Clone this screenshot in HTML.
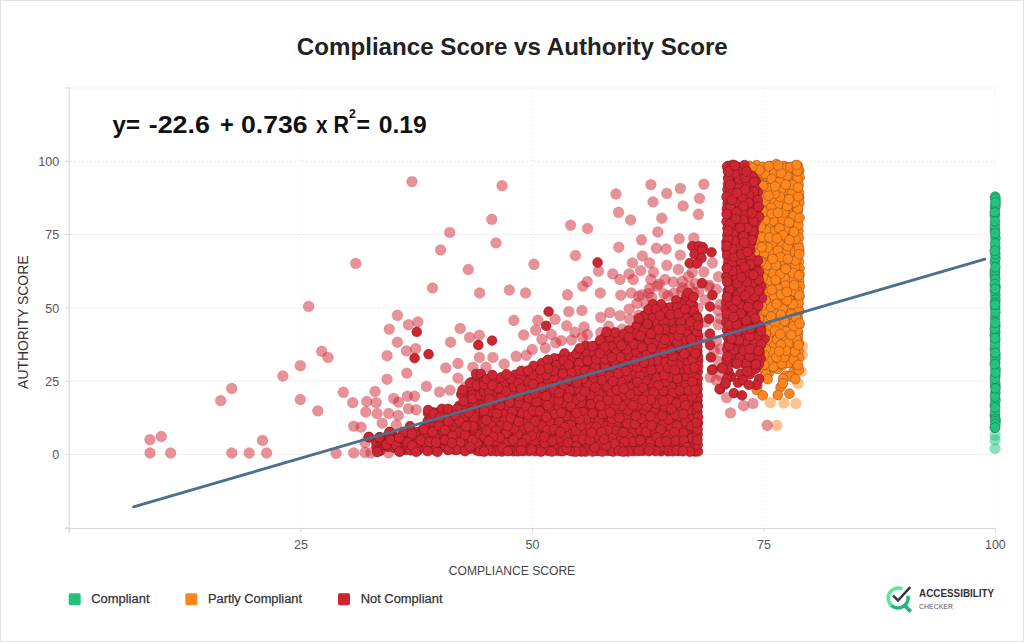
<!DOCTYPE html>
<html><head><meta charset="utf-8"><title>Compliance Score vs Authority Score</title>
<style>
html,body{margin:0;padding:0;background:#fff}
body{width:1024px;height:642px;overflow:hidden;font-family:"Liberation Sans",sans-serif}
svg{display:block;font-family:"Liberation Sans",sans-serif}
.grid line{stroke:#ebebeb;stroke-width:1;stroke-dasharray:2.8 1.2}
.vgrid line{stroke:#ededed;stroke-width:1;stroke-dasharray:1.6 2.4}
.axis line{stroke:#d6d6d6;stroke-width:1}
.tl text{font-size:12.5px;fill:#555}
circle{r:4.9px}
.pr circle,.po circle,.gp circle{r:5.45px}
.rs{fill:#CE2532;stroke:#6e1118;stroke-width:.6;stroke-opacity:.8}
.pr{fill:#CE2532;fill-opacity:.5;stroke:#CE2532;stroke-opacity:.3;stroke-width:.5}
.os{fill:#FF851F;stroke:#8a4a10;stroke-width:.7;stroke-opacity:.75}
.po{fill:#FF851F;fill-opacity:.5;stroke:#FF851F;stroke-opacity:.3;stroke-width:.5}
.gs{fill:#24C27B;stroke:#12704a;stroke-width:.7;stroke-opacity:.75}
.gp{fill:#24C27B;fill-opacity:.5;stroke:#24C27B;stroke-opacity:.3;stroke-width:.5}
</style></head><body>
<svg width="1024" height="642" viewBox="0 0 1024 642">
<rect x="0.5" y="0.5" width="1023" height="641" fill="#fff" stroke="#e2e2e2"/>
<text x="512.3" y="55" text-anchor="middle" font-size="24" font-weight="bold" fill="#222" textLength="431" lengthAdjust="spacingAndGlyphs">Compliance Score vs Authority Score</text>
<g class="grid"><line x1="69.4" x2="995.4" y1="87.94" y2="87.94"/><line x1="69.4" x2="995.4" y1="161.25" y2="161.25"/><line x1="69.4" x2="995.4" y1="234.56" y2="234.56"/><line x1="69.4" x2="995.4" y1="307.88" y2="307.88"/><line x1="69.4" x2="995.4" y1="381.19" y2="381.19"/><line x1="69.4" x2="995.4" y1="454.50" y2="454.50"/></g><g class="vgrid"><line x1="300.90" x2="300.90" y1="87.9" y2="528.5"/><line x1="532.40" x2="532.40" y1="87.9" y2="528.5"/><line x1="763.90" x2="763.90" y1="87.9" y2="528.5"/><line x1="995.40" x2="995.40" y1="87.9" y2="528.5"/></g>
<g class="axis"><line x1="69.1" x2="69.1" y1="87.9" y2="532.5"/><line x1="65.1" x2="995.4" y1="528.5" y2="528.5"/><line x1="65.1" x2="69.1" y1="87.94" y2="87.94"/><line x1="65.1" x2="69.1" y1="161.25" y2="161.25"/><line x1="65.1" x2="69.1" y1="234.56" y2="234.56"/><line x1="65.1" x2="69.1" y1="307.88" y2="307.88"/><line x1="65.1" x2="69.1" y1="381.19" y2="381.19"/><line x1="65.1" x2="69.1" y1="454.50" y2="454.50"/><line x1="65.1" x2="69.1" y1="527.81" y2="527.81"/><line x1="69.40" x2="69.40" y1="528.5" y2="532.5"/><line x1="300.90" x2="300.90" y1="528.5" y2="532.5"/><line x1="532.40" x2="532.40" y1="528.5" y2="532.5"/><line x1="763.90" x2="763.90" y1="528.5" y2="532.5"/><line x1="995.40" x2="995.40" y1="528.5" y2="532.5"/></g>
<g class="tl"><text x="59.2" y="165.8" text-anchor="end">100</text><text x="59.2" y="239.2" text-anchor="end">75</text><text x="59.2" y="312.5" text-anchor="end">50</text><text x="59.2" y="385.8" text-anchor="end">25</text><text x="59.2" y="459.1" text-anchor="end">0</text><text x="300.9" y="549.2" text-anchor="middle">25</text><text x="532.4" y="549.2" text-anchor="middle">50</text><text x="763.9" y="549.2" text-anchor="middle">75</text><text x="995.4" y="549.2" text-anchor="middle">100</text></g>
<text x="512" y="575.2" text-anchor="middle" font-size="12.5" fill="#444" textLength="126.4" lengthAdjust="spacingAndGlyphs">COMPLIANCE SCORE</text>
<text transform="translate(28,322.2) rotate(-90)" text-anchor="middle" font-size="13.8" fill="#333" textLength="133.4" lengthAdjust="spacingAndGlyphs">AUTHORITY SCORE</text>
<g font-weight="bold" fill="#111" font-size="24">
<text x="112.5" y="133.2" textLength="27.5" lengthAdjust="spacingAndGlyphs">y=</text>
<text x="148.7" y="133.2" textLength="61.3" lengthAdjust="spacingAndGlyphs">-22.6</text>
<text x="220" y="133.2" textLength="13.8" lengthAdjust="spacingAndGlyphs">+</text>
<text x="241" y="133.2" textLength="66.5" lengthAdjust="spacingAndGlyphs">0.736</text>
<text x="316" y="133.2" textLength="11.5" lengthAdjust="spacingAndGlyphs">x</text>
<text x="333.5" y="133.2" textLength="15.5" lengthAdjust="spacingAndGlyphs">R</text>
<text x="349" y="117.5" font-size="12" textLength="6.8" lengthAdjust="spacingAndGlyphs">2</text>
<text x="356.5" y="133.2" textLength="13.5" lengthAdjust="spacingAndGlyphs">=</text>
<text x="378.7" y="133.2" textLength="48" lengthAdjust="spacingAndGlyphs">0.19</text>
</g>
<g class="po"><circle cx="776.8" cy="425.3"/><circle cx="770.4" cy="402.6"/><circle cx="783.9" cy="403.1"/><circle cx="795.9" cy="403.5"/><circle cx="798.1" cy="383.4"/><circle cx="801.4" cy="371.4"/><circle cx="802.5" cy="355.1"/><circle cx="802.5" cy="346.4"/></g>
<g class="gp"><circle cx="995.1" cy="435.3"/><circle cx="995.1" cy="440.0"/><circle cx="995.1" cy="448.5"/></g>
<g class="gs"><circle cx="995.3" cy="248.0"/><circle cx="995.5" cy="369.0"/><circle cx="995.2" cy="307.9"/><circle cx="994.9" cy="273.1"/><circle cx="995.1" cy="207.9"/><circle cx="995.3" cy="295.4"/><circle cx="995.3" cy="332.4"/><circle cx="995.2" cy="340.3"/><circle cx="995.3" cy="386.1"/><circle cx="994.8" cy="427.7"/><circle cx="995.0" cy="262.1"/><circle cx="994.8" cy="276.2"/><circle cx="995.5" cy="400.1"/><circle cx="995.4" cy="258.3"/><circle cx="995.2" cy="354.9"/><circle cx="995.1" cy="291.3"/><circle cx="995.4" cy="299.8"/><circle cx="994.8" cy="415.8"/><circle cx="994.8" cy="335.1"/><circle cx="994.8" cy="404.7"/><circle cx="995.4" cy="392.7"/><circle cx="995.4" cy="205.3"/><circle cx="995.1" cy="412.5"/><circle cx="994.9" cy="215.7"/><circle cx="994.8" cy="348.7"/><circle cx="995.3" cy="254.2"/><circle cx="995.4" cy="419.1"/><circle cx="994.9" cy="271.0"/><circle cx="995.1" cy="344.8"/><circle cx="995.5" cy="421.1"/><circle cx="995.4" cy="358.0"/><circle cx="995.4" cy="424.0"/><circle cx="995.0" cy="317.5"/><circle cx="995.0" cy="396.6"/><circle cx="995.3" cy="376.1"/><circle cx="995.1" cy="302.7"/><circle cx="995.4" cy="238.1"/><circle cx="995.2" cy="279.4"/><circle cx="995.1" cy="427.5"/><circle cx="994.8" cy="212.6"/><circle cx="995.3" cy="352.9"/><circle cx="995.2" cy="383.1"/><circle cx="995.4" cy="312.2"/><circle cx="995.3" cy="267.2"/><circle cx="995.4" cy="388.3"/><circle cx="995.2" cy="362.0"/><circle cx="994.9" cy="378.7"/><circle cx="995.1" cy="196.7"/><circle cx="995.2" cy="243.4"/><circle cx="995.4" cy="372.6"/><circle cx="994.9" cy="230.0"/><circle cx="995.5" cy="286.6"/><circle cx="994.9" cy="225.9"/><circle cx="994.8" cy="284.0"/><circle cx="994.8" cy="250.7"/><circle cx="994.8" cy="364.2"/><circle cx="995.3" cy="326.2"/><circle cx="995.5" cy="198.7"/><circle cx="995.5" cy="202.3"/><circle cx="995.0" cy="221.2"/><circle cx="994.8" cy="328.8"/><circle cx="995.1" cy="304.7"/><circle cx="995.1" cy="233.2"/><circle cx="995.2" cy="322.7"/><circle cx="995.1" cy="288.8"/><circle cx="995.1" cy="338.1"/><circle cx="995.1" cy="407.6"/></g>
<g class="os"><circle cx="759.5" cy="288.6"/><circle cx="795.1" cy="312.3"/><circle cx="756.9" cy="229.4"/><circle cx="757.6" cy="239.0"/><circle cx="770.2" cy="238.4"/><circle cx="778.9" cy="180.1"/><circle cx="761.4" cy="341.1"/><circle cx="763.7" cy="231.2"/><circle cx="770.3" cy="277.4"/><circle cx="772.4" cy="351.6"/><circle cx="781.6" cy="355.1"/><circle cx="782.2" cy="283.1"/><circle cx="772.9" cy="255.4"/><circle cx="770.6" cy="187.2"/><circle cx="786.7" cy="296.0"/><circle cx="773.9" cy="229.0"/><circle cx="762.4" cy="213.7"/><circle cx="787.9" cy="322.3"/><circle cx="770.1" cy="268.3"/><circle cx="787.0" cy="338.7"/><circle cx="791.7" cy="170.6"/><circle cx="751.6" cy="284.2"/><circle cx="768.0" cy="228.7"/><circle cx="787.1" cy="186.7"/><circle cx="788.4" cy="234.6"/><circle cx="769.9" cy="285.3"/><circle cx="787.5" cy="262.0"/><circle cx="771.4" cy="170.8"/><circle cx="786.2" cy="220.1"/><circle cx="749.0" cy="253.5"/><circle cx="792.4" cy="328.7"/><circle cx="767.3" cy="181.3"/><circle cx="757.4" cy="278.1"/><circle cx="756.9" cy="213.5"/><circle cx="760.8" cy="206.5"/><circle cx="796.6" cy="196.8"/><circle cx="761.8" cy="180.6"/><circle cx="775.0" cy="321.4"/><circle cx="755.8" cy="349.4"/><circle cx="776.4" cy="237.3"/><circle cx="753.1" cy="318.5"/><circle cx="751.1" cy="223.3"/><circle cx="753.9" cy="331.0"/><circle cx="781.7" cy="332.9"/><circle cx="761.8" cy="201.6"/><circle cx="785.9" cy="375.7"/><circle cx="752.8" cy="342.6"/><circle cx="762.9" cy="276.4"/><circle cx="762.4" cy="172.4"/><circle cx="778.1" cy="218.2"/><circle cx="792.2" cy="211.1"/><circle cx="776.1" cy="259.8"/><circle cx="778.1" cy="196.0"/><circle cx="762.4" cy="247.9"/><circle cx="782.9" cy="299.8"/><circle cx="793.6" cy="371.7"/><circle cx="793.0" cy="270.1"/><circle cx="779.1" cy="266.3"/><circle cx="778.5" cy="168.3"/><circle cx="764.7" cy="327.6"/><circle cx="750.8" cy="272.3"/><circle cx="788.5" cy="203.7"/><circle cx="757.1" cy="190.4"/><circle cx="785.6" cy="195.8"/><circle cx="751.0" cy="239.9"/><circle cx="796.1" cy="221.0"/><circle cx="797.1" cy="228.8"/><circle cx="756.5" cy="223.4"/><circle cx="776.4" cy="294.1"/><circle cx="786.3" cy="171.6"/><circle cx="765.7" cy="316.0"/><circle cx="769.7" cy="325.1"/><circle cx="774.3" cy="304.9"/><circle cx="780.1" cy="250.9"/><circle cx="779.9" cy="359.8"/><circle cx="765.1" cy="373.9"/><circle cx="765.8" cy="354.3"/><circle cx="792.6" cy="354.4"/><circle cx="772.6" cy="214.1"/><circle cx="754.4" cy="218.0"/><circle cx="760.6" cy="269.2"/><circle cx="774.8" cy="337.1"/><circle cx="751.5" cy="231.3"/><circle cx="764.4" cy="195.8"/><circle cx="753.4" cy="307.7"/><circle cx="765.2" cy="282.8"/><circle cx="788.1" cy="305.2"/><circle cx="784.9" cy="268.1"/><circle cx="749.6" cy="215.6"/><circle cx="756.3" cy="337.8"/><circle cx="767.7" cy="202.7"/><circle cx="780.6" cy="387.3"/><circle cx="785.3" cy="256.9"/><circle cx="775.8" cy="272.7"/><circle cx="772.5" cy="311.8"/><circle cx="797.0" cy="273.9"/><circle cx="783.8" cy="215.8"/><circle cx="797.4" cy="324.7"/><circle cx="757.3" cy="358.6"/><circle cx="776.8" cy="205.0"/><circle cx="796.9" cy="171.1"/><circle cx="755.8" cy="204.3"/><circle cx="753.8" cy="182.0"/><circle cx="787.1" cy="282.6"/><circle cx="795.5" cy="187.5"/><circle cx="752.6" cy="300.2"/><circle cx="752.8" cy="247.5"/><circle cx="796.6" cy="250.5"/><circle cx="782.1" cy="325.5"/><circle cx="787.1" cy="356.3"/><circle cx="778.1" cy="174.3"/><circle cx="782.6" cy="347.4"/><circle cx="759.7" cy="308.8"/><circle cx="756.8" cy="303.0"/><circle cx="777.3" cy="210.6"/><circle cx="791.3" cy="178.3"/><circle cx="794.6" cy="297.5"/><circle cx="767.9" cy="261.2"/><circle cx="794.7" cy="346.3"/><circle cx="768.2" cy="242.8"/><circle cx="773.7" cy="247.2"/><circle cx="793.2" cy="362.9"/><circle cx="794.4" cy="255.1"/><circle cx="749.7" cy="264.0"/><circle cx="778.6" cy="191.1"/><circle cx="765.1" cy="188.6"/><circle cx="779.8" cy="310.6"/><circle cx="748.4" cy="258.9"/><circle cx="761.5" cy="226.0"/><circle cx="750.5" cy="313.1"/><circle cx="793.0" cy="263.7"/><circle cx="797.4" cy="356.0"/><circle cx="780.0" cy="228.8"/><circle cx="792.8" cy="321.6"/><circle cx="783.0" cy="241.4"/><circle cx="775.3" cy="299.8"/><circle cx="751.2" cy="195.6"/><circle cx="784.0" cy="178.5"/><circle cx="760.0" cy="316.7"/><circle cx="790.4" cy="239.3"/><circle cx="795.3" cy="281.8"/><circle cx="757.8" cy="245.8"/><circle cx="769.5" cy="372.0"/><circle cx="750.2" cy="293.3"/><circle cx="777.8" cy="351.4"/><circle cx="765.0" cy="236.7"/><circle cx="796.6" cy="334.1"/><circle cx="752.4" cy="169.0"/><circle cx="765.8" cy="335.3"/><circle cx="765.8" cy="253.4"/><circle cx="784.4" cy="316.0"/><circle cx="789.4" cy="247.0"/><circle cx="758.1" cy="234.2"/><circle cx="753.8" cy="259.8"/><circle cx="751.5" cy="359.2"/><circle cx="778.3" cy="315.7"/><circle cx="797.2" cy="215.9"/><circle cx="791.8" cy="334.9"/><circle cx="772.6" cy="367.0"/><circle cx="765.5" cy="223.1"/><circle cx="776.9" cy="327.6"/><circle cx="751.8" cy="364.9"/><circle cx="767.3" cy="273.4"/><circle cx="777.8" cy="368.9"/><circle cx="756.8" cy="296.0"/><circle cx="762.8" cy="259.9"/><circle cx="754.3" cy="369.5"/><circle cx="793.3" cy="304.1"/><circle cx="769.4" cy="360.8"/><circle cx="787.5" cy="332.5"/><circle cx="751.4" cy="352.0"/><circle cx="765.9" cy="306.0"/><circle cx="752.1" cy="278.4"/><circle cx="774.4" cy="342.0"/><circle cx="764.9" cy="311.2"/><circle cx="777.9" cy="288.3"/><circle cx="758.4" cy="252.9"/><circle cx="750.7" cy="210.1"/><circle cx="771.9" cy="178.0"/><circle cx="748.6" cy="324.8"/><circle cx="794.6" cy="288.1"/><circle cx="771.3" cy="290.2"/><circle cx="781.9" cy="306.0"/><circle cx="758.4" cy="176.1"/><circle cx="769.1" cy="218.1"/><circle cx="795.0" cy="237.6"/><circle cx="772.5" cy="192.5"/><circle cx="794.2" cy="204.7"/><circle cx="764.3" cy="167.6"/><circle cx="748.8" cy="179.9"/><circle cx="761.0" cy="351.4"/><circle cx="748.1" cy="235.6"/><circle cx="789.2" cy="291.3"/><circle cx="774.2" cy="356.3"/><circle cx="786.3" cy="275.2"/><circle cx="794.9" cy="340.0"/><circle cx="767.3" cy="349.2"/><circle cx="765.5" cy="344.4"/><circle cx="765.0" cy="300.2"/><circle cx="785.2" cy="209.4"/><circle cx="763.7" cy="358.8"/><circle cx="790.6" cy="314.8"/><circle cx="782.9" cy="291.3"/><circle cx="779.4" cy="279.1"/><circle cx="759.6" cy="346.0"/><circle cx="797.0" cy="182.8"/><circle cx="781.5" cy="260.6"/><circle cx="790.3" cy="343.0"/><circle cx="748.8" cy="332.9"/><circle cx="749.0" cy="202.1"/><circle cx="792.1" cy="225.3"/><circle cx="760.3" cy="331.2"/><circle cx="757.2" cy="325.5"/><circle cx="783.1" cy="233.2"/><circle cx="756.3" cy="264.4"/><circle cx="797.4" cy="317.4"/><circle cx="792.1" cy="230.6"/><circle cx="794.1" cy="243.8"/><circle cx="770.4" cy="332.6"/><circle cx="749.4" cy="346.3"/><circle cx="753.1" cy="176.7"/><circle cx="790.5" cy="191.8"/><circle cx="784.9" cy="252.0"/><circle cx="748.2" cy="303.8"/><circle cx="756.7" cy="284.1"/><circle cx="765.9" cy="289.0"/><circle cx="765.7" cy="266.1"/><circle cx="755.8" cy="271.1"/><circle cx="774.0" cy="182.7"/><circle cx="772.1" cy="206.4"/><circle cx="762.2" cy="323.4"/><circle cx="779.0" cy="245.4"/><circle cx="772.7" cy="197.7"/><circle cx="779.3" cy="340.5"/><circle cx="776.0" cy="346.6"/><circle cx="760.4" cy="186.3"/><circle cx="782.6" cy="365.0"/><circle cx="764.5" cy="295.1"/><circle cx="775.4" cy="282.1"/><circle cx="761.9" cy="241.9"/><circle cx="780.8" cy="222.9"/><circle cx="748.4" cy="340.3"/><circle cx="756.3" cy="312.6"/><circle cx="776.9" cy="364.0"/><circle cx="789.4" cy="215.6"/><circle cx="797.4" cy="267.0"/><circle cx="749.8" cy="186.5"/><circle cx="787.7" cy="349.7"/><circle cx="791.2" cy="279.0"/><circle cx="783.1" cy="202.3"/><circle cx="759.6" cy="195.3"/><circle cx="769.7" cy="296.5"/><circle cx="791.0" cy="197.5"/><circle cx="775.5" cy="223.1"/><circle cx="785.8" cy="226.8"/><circle cx="781.8" cy="272.9"/><circle cx="797.0" cy="366.4"/><circle cx="787.2" cy="327.0"/><circle cx="768.5" cy="248.1"/><circle cx="783.8" cy="342.7"/><circle cx="770.7" cy="316.9"/><circle cx="766.8" cy="176.6"/><circle cx="772.3" cy="233.8"/><circle cx="759.1" cy="168.5"/><circle cx="790.3" cy="309.7"/><circle cx="769.6" cy="301.7"/><circle cx="783.9" cy="246.6"/><circle cx="797.4" cy="210.2"/><circle cx="796.7" cy="176.5"/><circle cx="774.7" cy="242.1"/><circle cx="790.9" cy="183.3"/><circle cx="787.4" cy="361.1"/><circle cx="781.1" cy="186.6"/><circle cx="757.5" cy="363.9"/><circle cx="789.5" cy="253.7"/><circle cx="748.4" cy="172.1"/><circle cx="790.6" cy="376.5"/><circle cx="760.4" cy="219.0"/><circle cx="773.9" cy="265.0"/><circle cx="764.9" cy="369.0"/><circle cx="767.2" cy="210.2"/><circle cx="768.4" cy="339.9"/><circle cx="779.2" cy="255.9"/><circle cx="789.7" cy="300.6"/><circle cx="754.4" cy="290.5"/><circle cx="756.3" cy="199.1"/><circle cx="748.1" cy="288.1"/><circle cx="770.5" cy="223.4"/><circle cx="797.4" cy="306.9"/><circle cx="783.6" cy="190.8"/><circle cx="791.1" cy="220.3"/><circle cx="796.1" cy="259.9"/><circle cx="770.7" cy="345.3"/><circle cx="748.2" cy="308.6"/><circle cx="782.5" cy="320.6"/><circle cx="748.2" cy="245.6"/><circle cx="748.2" cy="191.7"/><circle cx="791.2" cy="258.8"/><circle cx="748.3" cy="318.3"/><circle cx="786.4" cy="287.4"/><circle cx="767.6" cy="320.7"/><circle cx="797.4" cy="293.6"/><circle cx="785.1" cy="309.8"/><circle cx="748.1" cy="227.3"/><circle cx="797.9" cy="166.0"/><circle cx="799.3" cy="170.7"/><circle cx="799.6" cy="177.6"/><circle cx="798.6" cy="184.8"/><circle cx="798.9" cy="192.8"/><circle cx="799.2" cy="197.7"/><circle cx="799.3" cy="203.0"/><circle cx="797.8" cy="210.6"/><circle cx="799.1" cy="217.6"/><circle cx="797.3" cy="224.7"/><circle cx="798.4" cy="231.0"/><circle cx="798.9" cy="237.8"/><circle cx="798.2" cy="244.8"/><circle cx="799.2" cy="251.3"/><circle cx="797.6" cy="256.4"/><circle cx="799.0" cy="261.6"/><circle cx="799.5" cy="268.3"/><circle cx="799.5" cy="274.7"/><circle cx="799.0" cy="280.9"/><circle cx="799.8" cy="286.3"/><circle cx="798.7" cy="292.2"/><circle cx="799.4" cy="296.7"/><circle cx="797.8" cy="304.5"/><circle cx="799.1" cy="311.5"/><circle cx="797.5" cy="319.4"/><circle cx="799.3" cy="324.5"/><circle cx="798.1" cy="332.4"/><circle cx="798.0" cy="337.3"/><circle cx="798.7" cy="343.3"/><circle cx="798.4" cy="351.3"/><circle cx="799.2" cy="357.6"/><circle cx="749.0" cy="165.9"/><circle cx="756.7" cy="165.2"/><circle cx="763.0" cy="166.9"/><circle cx="770.3" cy="166.0"/><circle cx="776.2" cy="164.1"/><circle cx="784.1" cy="166.0"/><circle cx="789.3" cy="167.2"/><circle cx="795.9" cy="165.3"/><circle cx="773.5" cy="366.7"/><circle cx="757.4" cy="385.6"/><circle cx="768.7" cy="359.7"/><circle cx="772.9" cy="273.4"/><circle cx="795.1" cy="266.5"/><circle cx="760.0" cy="327.1"/><circle cx="760.1" cy="313.0"/><circle cx="787.2" cy="176.0"/><circle cx="793.5" cy="279.2"/><circle cx="765.5" cy="173.9"/><circle cx="793.3" cy="251.3"/><circle cx="795.5" cy="260.3"/><circle cx="773.2" cy="220.7"/><circle cx="772.6" cy="231.9"/><circle cx="795.5" cy="238.9"/><circle cx="798.4" cy="224.9"/><circle cx="784.4" cy="168.1"/><circle cx="771.0" cy="253.2"/><circle cx="784.7" cy="278.3"/><circle cx="753.9" cy="246.9"/><circle cx="753.4" cy="323.0"/><circle cx="780.8" cy="190.3"/><circle cx="755.3" cy="275.5"/><circle cx="769.7" cy="341.5"/><circle cx="765.9" cy="230.0"/><circle cx="752.5" cy="225.1"/><circle cx="766.2" cy="311.0"/><circle cx="783.1" cy="378.7"/><circle cx="781.9" cy="326.7"/><circle cx="797.5" cy="179.1"/><circle cx="788.6" cy="363.1"/><circle cx="785.6" cy="229.5"/><circle cx="796.2" cy="338.4"/><circle cx="797.4" cy="330.9"/><circle cx="759.1" cy="349.4"/><circle cx="779.8" cy="244.5"/><circle cx="757.4" cy="299.2"/><circle cx="773.2" cy="200.2"/><circle cx="798.8" cy="310.1"/><circle cx="752.1" cy="285.9"/><circle cx="790.4" cy="167.3"/><circle cx="780.0" cy="274.3"/><circle cx="786.0" cy="253.0"/><circle cx="793.6" cy="216.1"/><circle cx="778.6" cy="204.2"/><circle cx="769.3" cy="328.5"/><circle cx="785.4" cy="285.6"/><circle cx="782.8" cy="219.4"/><circle cx="785.6" cy="337.7"/><circle cx="794.3" cy="291.6"/><circle cx="754.9" cy="309.8"/><circle cx="798.7" cy="303.0"/><circle cx="797.9" cy="208.6"/><circle cx="784.2" cy="212.6"/><circle cx="766.0" cy="374.4"/><circle cx="772.3" cy="243.3"/><circle cx="775.8" cy="310.7"/><circle cx="794.2" cy="285.1"/><circle cx="755.4" cy="263.9"/><circle cx="797.4" cy="171.1"/><circle cx="774.2" cy="172.9"/><circle cx="771.7" cy="178.9"/><circle cx="763.9" cy="253.5"/><circle cx="781.8" cy="363.5"/><circle cx="764.5" cy="271.4"/><circle cx="762.8" cy="193.0"/><circle cx="784.4" cy="321.2"/><circle cx="788.2" cy="343.5"/><circle cx="757.6" cy="233.0"/><circle cx="779.5" cy="228.3"/><circle cx="768.9" cy="188.1"/><circle cx="778.0" cy="250.5"/><circle cx="767.2" cy="294.2"/><circle cx="755.5" cy="189.6"/><circle cx="754.8" cy="252.9"/><circle cx="780.7" cy="257.1"/><circle cx="770.8" cy="307.0"/><circle cx="791.3" cy="313.9"/><circle cx="757.3" cy="180.8"/><circle cx="780.0" cy="196.8"/><circle cx="757.3" cy="209.0"/><circle cx="794.8" cy="202.4"/><circle cx="767.3" cy="265.1"/><circle cx="767.8" cy="281.5"/><circle cx="792.8" cy="272.9"/><circle cx="792.0" cy="193.0"/><circle cx="764.3" cy="364.6"/><circle cx="782.5" cy="308.8"/><circle cx="774.1" cy="295.8"/><circle cx="761.2" cy="343.1"/><circle cx="785.7" cy="268.9"/><circle cx="787.5" cy="205.9"/><circle cx="765.3" cy="220.2"/><circle cx="752.8" cy="331.4"/><circle cx="793.9" cy="231.9"/><circle cx="792.8" cy="304.3"/><circle cx="765.7" cy="333.8"/><circle cx="765.0" cy="201.1"/><circle cx="779.8" cy="181.8"/><circle cx="757.9" cy="284.1"/><circle cx="774.0" cy="346.2"/><circle cx="777.8" cy="288.5"/><circle cx="793.6" cy="359.7"/><circle cx="794.9" cy="351.6"/><circle cx="756.5" cy="216.6"/><circle cx="783.0" cy="235.3"/><circle cx="752.0" cy="296.3"/><circle cx="775.9" cy="265.2"/><circle cx="775.7" cy="280.0"/><circle cx="787.8" cy="259.0"/><circle cx="784.3" cy="357.3"/><circle cx="798.8" cy="369.9"/><circle cx="755.0" cy="239.8"/><circle cx="786.0" cy="350.7"/><circle cx="771.2" cy="207.7"/><circle cx="768.8" cy="166.2"/><circle cx="780.9" cy="173.1"/><circle cx="796.1" cy="317.7"/><circle cx="759.4" cy="170.1"/><circle cx="787.1" cy="300.2"/><circle cx="798.2" cy="196.4"/><circle cx="767.8" cy="247.4"/><circle cx="763.2" cy="185.9"/><circle cx="761.8" cy="247.2"/><circle cx="775.2" cy="323.0"/><circle cx="781.1" cy="294.4"/><circle cx="786.9" cy="291.9"/><circle cx="793.3" cy="326.3"/><circle cx="752.5" cy="203.0"/><circle cx="792.3" cy="184.8"/><circle cx="789.1" cy="199.3"/><circle cx="775.2" cy="330.5"/><circle cx="753.0" cy="349.9"/><circle cx="777.2" cy="339.6"/><circle cx="771.3" cy="351.7"/><circle cx="776.4" cy="357.4"/><circle cx="789.1" cy="222.5"/><circle cx="786.1" cy="331.4"/><circle cx="787.6" cy="246.2"/><circle cx="764.6" cy="321.6"/><circle cx="765.1" cy="288.3"/><circle cx="771.2" cy="316.6"/><circle cx="765.5" cy="300.3"/><circle cx="763.7" cy="212.0"/><circle cx="776.6" cy="304.0"/><circle cx="762.4" cy="237.1"/><circle cx="799.0" cy="248.0"/><circle cx="756.2" cy="339.3"/><circle cx="798.1" cy="187.5"/><circle cx="765.7" cy="348.9"/><circle cx="799.0" cy="275.4"/><circle cx="755.8" cy="196.0"/><circle cx="798.5" cy="345.0"/><circle cx="757.3" cy="290.8"/><circle cx="789.5" cy="240.1"/><circle cx="752.1" cy="167.6"/><circle cx="752.3" cy="315.3"/><circle cx="772.6" cy="259.0"/><circle cx="771.7" cy="213.7"/><circle cx="764.3" cy="355.0"/><circle cx="778.1" cy="165.6"/><circle cx="752.7" cy="304.3"/><circle cx="774.9" cy="193.6"/><circle cx="758.6" cy="333.4"/><circle cx="762.8" cy="277.2"/><circle cx="761.8" cy="305.4"/><circle cx="759.0" cy="319.1"/><circle cx="780.7" cy="344.8"/><circle cx="779.1" cy="351.4"/><circle cx="760.7" cy="227.0"/><circle cx="799.4" cy="295.4"/><circle cx="781.0" cy="314.9"/><circle cx="761.2" cy="261.3"/><circle cx="785.9" cy="184.6"/><circle cx="752.1" cy="177.9"/><circle cx="796.7" cy="165.0"/><circle cx="799.2" cy="254.3"/><circle cx="775.2" cy="186.4"/><circle cx="799.5" cy="323.4"/><circle cx="769.4" cy="237.5"/><circle cx="752.4" cy="269.3"/><circle cx="799.5" cy="218.0"/><circle cx="771.7" cy="289.8"/><circle cx="776.9" cy="238.4"/><circle cx="791.2" cy="335.0"/><circle cx="780.2" cy="334.0"/><circle cx="778.0" cy="212.7"/><circle cx="768.6" cy="195.7"/><circle cx="756.7" cy="390.0"/><circle cx="762.8" cy="395.4"/><circle cx="777.8" cy="395.0"/><circle cx="789.4" cy="393.7"/><circle cx="782.9" cy="383.4"/><circle cx="767.6" cy="379.1"/><circle cx="795.3" cy="379.1"/><circle cx="798.1" cy="364.9"/></g>
<g class="pr"><circle cx="150.0" cy="439.6"/><circle cx="161.3" cy="436.5"/><circle cx="150.0" cy="453.0"/><circle cx="170.6" cy="453.0"/><circle cx="231.8" cy="453.0"/><circle cx="249.2" cy="453.0"/><circle cx="266.6" cy="453.0"/><circle cx="262.5" cy="440.4"/><circle cx="308.6" cy="306.4"/><circle cx="321.7" cy="351.3"/><circle cx="328.0" cy="357.4"/><circle cx="300.3" cy="365.7"/><circle cx="282.9" cy="376.0"/><circle cx="231.8" cy="388.4"/><circle cx="220.7" cy="400.6"/><circle cx="300.3" cy="399.5"/><circle cx="317.8" cy="410.9"/><circle cx="343.3" cy="392.3"/><circle cx="352.7" cy="402.6"/><circle cx="366.8" cy="401.5"/><circle cx="376.2" cy="402.6"/><circle cx="375.1" cy="391.5"/><circle cx="365.8" cy="412.0"/><circle cx="377.1" cy="413.5"/><circle cx="388.7" cy="413.5"/><circle cx="393.7" cy="398.4"/><circle cx="387.1" cy="379.2"/><circle cx="387.1" cy="355.7"/><circle cx="389.3" cy="329.1"/><circle cx="397.4" cy="315.3"/><circle cx="397.4" cy="342.2"/><circle cx="398.5" cy="402.1"/><circle cx="336.1" cy="453.3"/><circle cx="353.7" cy="452.9"/><circle cx="365.0" cy="452.5"/><circle cx="370.9" cy="452.9"/><circle cx="388.5" cy="452.9"/><circle cx="365.0" cy="442.7"/><circle cx="353.7" cy="426.1"/><circle cx="361.1" cy="427.1"/><circle cx="382.2" cy="423.2"/><circle cx="396.3" cy="425.2"/><circle cx="398.2" cy="415.4"/><circle cx="412.0" cy="181.6"/><circle cx="502.1" cy="185.7"/><circle cx="491.8" cy="219.3"/><circle cx="449.7" cy="232.4"/><circle cx="496.0" cy="242.9"/><circle cx="440.6" cy="249.9"/><circle cx="355.7" cy="263.4"/><circle cx="468.3" cy="269.5"/><circle cx="432.5" cy="288.0"/><circle cx="479.6" cy="293.0"/><circle cx="509.3" cy="290.0"/><circle cx="525.6" cy="293.0"/><circle cx="650.9" cy="184.6"/><circle cx="703.9" cy="184.2"/><circle cx="680.3" cy="188.4"/><circle cx="666.8" cy="193.4"/><circle cx="616.0" cy="194.0"/><circle cx="699.5" cy="198.4"/><circle cx="653.0" cy="201.9"/><circle cx="683.1" cy="206.0"/><circle cx="618.6" cy="212.3"/><circle cx="698.4" cy="214.3"/><circle cx="661.8" cy="218.2"/><circle cx="630.6" cy="220.0"/><circle cx="570.6" cy="225.2"/><circle cx="587.6" cy="228.5"/><circle cx="657.8" cy="232.0"/><circle cx="693.8" cy="237.9"/><circle cx="679.2" cy="238.7"/><circle cx="641.5" cy="239.8"/><circle cx="618.8" cy="247.2"/><circle cx="656.3" cy="248.3"/><circle cx="666.1" cy="249.0"/><circle cx="575.4" cy="255.5"/><circle cx="680.3" cy="255.1"/><circle cx="642.4" cy="256.0"/><circle cx="534.0" cy="264.3"/><circle cx="632.5" cy="262.9"/><circle cx="649.6" cy="262.9"/><circle cx="666.8" cy="265.3"/><circle cx="712.4" cy="263.0"/><circle cx="678.3" cy="269.5"/><circle cx="598.5" cy="271.2"/><circle cx="640.6" cy="270.6"/><circle cx="653.5" cy="272.1"/><circle cx="692.3" cy="272.3"/><circle cx="703.9" cy="271.9"/><circle cx="612.7" cy="273.9"/><circle cx="629.1" cy="273.9"/><circle cx="619.9" cy="279.5"/><circle cx="633.2" cy="279.5"/><circle cx="650.9" cy="279.5"/><circle cx="665.0" cy="279.5"/><circle cx="682.3" cy="281.3"/><circle cx="718.5" cy="276.7"/><circle cx="587.2" cy="281.7"/><circle cx="582.8" cy="286.1"/><circle cx="657.0" cy="286.1"/><circle cx="689.7" cy="286.9"/><circle cx="708.7" cy="286.9"/><circle cx="567.5" cy="294.8"/><circle cx="600.3" cy="293.0"/><circle cx="620.8" cy="295.2"/><circle cx="631.2" cy="293.0"/><circle cx="638.9" cy="296.3"/><circle cx="648.7" cy="293.5"/><circle cx="667.9" cy="295.7"/><circle cx="681.4" cy="290.9"/><circle cx="698.8" cy="292.0"/><circle cx="417.9" cy="321.9"/><circle cx="408.5" cy="324.7"/><circle cx="415.7" cy="348.7"/><circle cx="406.4" cy="350.9"/><circle cx="406.8" cy="373.1"/><circle cx="426.4" cy="386.4"/><circle cx="439.5" cy="391.9"/><circle cx="450.0" cy="390.1"/><circle cx="414.6" cy="396.2"/><circle cx="407.4" cy="396.2"/><circle cx="416.2" cy="409.8"/><circle cx="408.5" cy="408.7"/><circle cx="460.2" cy="328.4"/><circle cx="450.6" cy="342.2"/><circle cx="469.6" cy="337.4"/><circle cx="479.4" cy="335.2"/><circle cx="458.0" cy="363.5"/><circle cx="445.8" cy="367.9"/><circle cx="479.4" cy="357.4"/><circle cx="492.9" cy="357.4"/><circle cx="472.9" cy="367.2"/><circle cx="486.0" cy="367.2"/><circle cx="504.1" cy="364.0"/><circle cx="458.0" cy="378.1"/><circle cx="465.2" cy="386.9"/><circle cx="513.9" cy="320.3"/><circle cx="523.7" cy="335.0"/><circle cx="516.1" cy="356.3"/><circle cx="526.3" cy="355.2"/><circle cx="532.2" cy="349.4"/><circle cx="537.9" cy="320.3"/><circle cx="535.7" cy="330.2"/><circle cx="555.1" cy="319.3"/><circle cx="568.8" cy="311.6"/><circle cx="581.9" cy="310.5"/><circle cx="566.7" cy="325.8"/><circle cx="551.4" cy="334.5"/><circle cx="542.0" cy="339.3"/><circle cx="555.8" cy="342.8"/><circle cx="561.2" cy="340.6"/><circle cx="545.3" cy="348.0"/><circle cx="575.0" cy="332.3"/><circle cx="584.1" cy="326.9"/><circle cx="571.5" cy="340.0"/><circle cx="582.4" cy="337.1"/><circle cx="587.4" cy="334.5"/><circle cx="726.6" cy="397.6"/><circle cx="730.5" cy="412.9"/><circle cx="743.6" cy="405.7"/><circle cx="753.0" cy="403.5"/><circle cx="767.2" cy="425.3"/><circle cx="709.2" cy="285.2"/><circle cx="716.3" cy="289.2"/><circle cx="720.4" cy="304.4"/><circle cx="718.3" cy="310.5"/><circle cx="720.4" cy="318.6"/><circle cx="718.3" cy="324.7"/><circle cx="716.3" cy="340.9"/><circle cx="720.4" cy="349.0"/><circle cx="714.3" cy="351.0"/><circle cx="718.3" cy="361.0"/><circle cx="710.2" cy="377.3"/><circle cx="716.3" cy="380.3"/><circle cx="720.4" cy="375.3"/><circle cx="705.0" cy="300.0"/><circle cx="706.0" cy="322.0"/><circle cx="704.5" cy="338.0"/><circle cx="673.9" cy="293.2"/><circle cx="659.3" cy="284.1"/><circle cx="688.5" cy="276.4"/><circle cx="609.8" cy="312.6"/><circle cx="693.8" cy="292.5"/><circle cx="622.3" cy="329.2"/><circle cx="638.7" cy="315.1"/><circle cx="663.9" cy="293.8"/><circle cx="636.9" cy="303.5"/><circle cx="651.8" cy="297.4"/><circle cx="682.3" cy="287.6"/><circle cx="629.8" cy="319.5"/><circle cx="697.8" cy="308.1"/><circle cx="600.7" cy="317.3"/><circle cx="629.1" cy="309.1"/><circle cx="608.7" cy="326.3"/><circle cx="649.6" cy="288.5"/><circle cx="620.1" cy="315.6"/><circle cx="646.3" cy="304.8"/><circle cx="600.8" cy="332.5"/><circle cx="695.7" cy="283.4"/><circle cx="673.2" cy="282.0"/><circle cx="642.3" cy="294.7"/></g>
<g class="rs"><circle cx="417.2" cy="437.7"/><circle cx="440.8" cy="447.2"/><circle cx="467.6" cy="395.0"/><circle cx="403.8" cy="436.8"/><circle cx="460.1" cy="427.5"/><circle cx="428.9" cy="441.5"/><circle cx="481.7" cy="381.4"/><circle cx="416.5" cy="432.1"/><circle cx="456.7" cy="417.5"/><circle cx="448.7" cy="419.2"/><circle cx="465.4" cy="447.0"/><circle cx="413.4" cy="441.2"/><circle cx="463.0" cy="440.6"/><circle cx="478.6" cy="426.8"/><circle cx="427.8" cy="421.0"/><circle cx="472.3" cy="433.9"/><circle cx="429.3" cy="449.7"/><circle cx="468.1" cy="427.3"/><circle cx="429.8" cy="433.9"/><circle cx="466.9" cy="436.0"/><circle cx="479.0" cy="407.5"/><circle cx="476.7" cy="450.5"/><circle cx="478.8" cy="401.0"/><circle cx="465.5" cy="410.1"/><circle cx="443.7" cy="435.5"/><circle cx="414.6" cy="447.2"/><circle cx="385.0" cy="437.6"/><circle cx="383.2" cy="444.3"/><circle cx="435.7" cy="443.8"/><circle cx="457.6" cy="412.3"/><circle cx="473.8" cy="407.2"/><circle cx="439.1" cy="412.1"/><circle cx="427.4" cy="427.0"/><circle cx="423.5" cy="446.8"/><circle cx="449.1" cy="441.6"/><circle cx="477.3" cy="392.6"/><circle cx="458.9" cy="443.2"/><circle cx="470.4" cy="448.8"/><circle cx="393.5" cy="447.6"/><circle cx="482.8" cy="438.1"/><circle cx="459.5" cy="449.2"/><circle cx="463.0" cy="392.5"/><circle cx="434.2" cy="427.6"/><circle cx="376.4" cy="446.5"/><circle cx="476.4" cy="380.4"/><circle cx="447.8" cy="450.0"/><circle cx="480.8" cy="415.4"/><circle cx="455.1" cy="424.2"/><circle cx="471.5" cy="421.8"/><circle cx="453.1" cy="436.5"/><circle cx="447.2" cy="427.1"/><circle cx="432.8" cy="421.8"/><circle cx="440.6" cy="426.0"/><circle cx="453.8" cy="449.5"/><circle cx="471.7" cy="387.8"/><circle cx="481.5" cy="446.3"/><circle cx="472.6" cy="395.0"/><circle cx="401.1" cy="446.3"/><circle cx="445.4" cy="445.5"/><circle cx="472.2" cy="442.2"/><circle cx="479.9" cy="388.5"/><circle cx="409.4" cy="437.2"/><circle cx="479.1" cy="421.0"/><circle cx="405.8" cy="449.8"/><circle cx="423.1" cy="437.0"/><circle cx="469.3" cy="416.1"/><circle cx="380.1" cy="450.8"/><circle cx="396.8" cy="443.7"/><circle cx="406.9" cy="431.5"/><circle cx="375.7" cy="440.9"/><circle cx="449.1" cy="411.6"/><circle cx="393.4" cy="435.6"/><circle cx="461.9" cy="422.4"/><circle cx="464.7" cy="400.2"/><circle cx="438.6" cy="434.0"/><circle cx="477.6" cy="434.3"/><circle cx="483.7" cy="401.7"/><circle cx="418.5" cy="449.9"/><circle cx="439.5" cy="439.5"/><circle cx="453.7" cy="431.0"/><circle cx="428.0" cy="413.1"/><circle cx="441.1" cy="419.9"/><circle cx="483.1" cy="431.6"/><circle cx="464.3" cy="430.9"/><circle cx="459.3" cy="405.8"/><circle cx="407.8" cy="442.3"/><circle cx="474.9" cy="418.3"/><circle cx="435.3" cy="450.4"/><circle cx="422.9" cy="429.3"/><circle cx="465.4" cy="404.9"/><circle cx="387.7" cy="446.8"/><circle cx="397.2" cy="438.6"/><circle cx="434.7" cy="437.6"/><circle cx="463.9" cy="417.0"/><circle cx="389.5" cy="441.2"/><circle cx="483.0" cy="396.3"/><circle cx="433.4" cy="412.3"/><circle cx="473.1" cy="402.4"/><circle cx="459.4" cy="437.4"/><circle cx="484.0" cy="408.3"/><circle cx="477.4" cy="440.2"/><circle cx="473.5" cy="428.1"/><circle cx="436.0" cy="417.6"/><circle cx="454.4" cy="441.5"/><circle cx="448.9" cy="434.0"/><circle cx="444.7" cy="416.4"/><circle cx="483.7" cy="423.4"/><circle cx="417.9" cy="443.3"/><circle cx="476.1" cy="412.2"/><circle cx="470.7" cy="410.9"/><circle cx="459.5" cy="432.3"/><circle cx="411.7" cy="432.7"/><circle cx="471.8" cy="382.1"/><circle cx="442.9" cy="430.3"/><circle cx="380.6" cy="439.8"/><circle cx="444.1" cy="411.6"/><circle cx="423.7" cy="441.9"/><circle cx="410.6" cy="450.3"/><circle cx="444.4" cy="440.4"/><circle cx="431.0" cy="417.4"/><circle cx="402.2" cy="441.6"/><circle cx="483.3" cy="450.9"/><circle cx="476.6" cy="445.5"/><circle cx="368.8" cy="437.2"/><circle cx="379.8" cy="437.2"/><circle cx="389.6" cy="432.2"/><circle cx="377.5" cy="451.6"/><circle cx="390.6" cy="439.4"/><circle cx="386.2" cy="445.0"/><circle cx="400.0" cy="451.6"/><circle cx="397.5" cy="446.2"/><circle cx="400.6" cy="438.8"/><circle cx="403.1" cy="431.9"/><circle cx="410.0" cy="426.2"/><circle cx="411.9" cy="434.0"/><circle cx="407.5" cy="442.5"/><circle cx="412.2" cy="445.6"/><circle cx="416.2" cy="451.9"/><circle cx="420.6" cy="440.4"/><circle cx="423.8" cy="429.4"/><circle cx="428.1" cy="410.0"/><circle cx="433.8" cy="413.8"/><circle cx="441.9" cy="408.8"/><circle cx="448.1" cy="408.8"/><circle cx="438.8" cy="425.6"/><circle cx="432.5" cy="431.9"/><circle cx="427.5" cy="451.2"/><circle cx="429.4" cy="441.9"/><circle cx="437.5" cy="451.9"/><circle cx="436.2" cy="442.5"/><circle cx="445.0" cy="440.0"/><circle cx="452.5" cy="435.6"/><circle cx="459.4" cy="421.2"/><circle cx="448.1" cy="421.2"/><circle cx="445.0" cy="430.0"/><circle cx="456.9" cy="408.8"/><circle cx="461.2" cy="394.4"/><circle cx="462.5" cy="390.0"/><circle cx="463.8" cy="401.2"/><circle cx="472.5" cy="398.8"/><circle cx="480.0" cy="395.0"/><circle cx="483.1" cy="390.0"/><circle cx="473.8" cy="417.5"/><circle cx="468.8" cy="412.5"/><circle cx="483.8" cy="412.5"/><circle cx="483.1" cy="423.1"/><circle cx="472.5" cy="426.2"/><circle cx="465.0" cy="435.0"/><circle cx="460.0" cy="442.5"/><circle cx="456.2" cy="450.0"/><circle cx="465.0" cy="451.2"/><circle cx="448.8" cy="449.4"/><circle cx="480.0" cy="435.0"/><circle cx="477.5" cy="443.8"/><circle cx="480.0" cy="451.2"/><circle cx="485.0" cy="451.2"/><circle cx="472.5" cy="440.0"/><circle cx="466.2" cy="426.2"/><circle cx="476.0" cy="374.0"/><circle cx="481.0" cy="374.0"/><circle cx="491.0" cy="377.5"/><circle cx="470.0" cy="383.0"/><circle cx="477.0" cy="385.0"/><circle cx="484.0" cy="381.0"/><circle cx="455.0" cy="415.0"/><circle cx="440.0" cy="417.0"/><circle cx="452.0" cy="443.0"/><circle cx="470.0" cy="447.0"/><circle cx="488.0" cy="444.0"/><circle cx="490.0" cy="430.0"/><circle cx="489.0" cy="418.0"/><circle cx="489.0" cy="405.0"/><circle cx="490.0" cy="393.0"/><circle cx="597.3" cy="407.9"/><circle cx="599.2" cy="366.6"/><circle cx="691.8" cy="408.7"/><circle cx="504.5" cy="449.3"/><circle cx="650.8" cy="440.0"/><circle cx="489.9" cy="427.7"/><circle cx="609.6" cy="439.7"/><circle cx="614.5" cy="421.6"/><circle cx="492.8" cy="404.9"/><circle cx="659.7" cy="428.0"/><circle cx="525.7" cy="386.5"/><circle cx="650.1" cy="317.1"/><circle cx="614.1" cy="345.1"/><circle cx="679.9" cy="423.6"/><circle cx="513.7" cy="398.8"/><circle cx="561.0" cy="434.0"/><circle cx="563.0" cy="375.7"/><circle cx="578.4" cy="363.9"/><circle cx="486.3" cy="397.5"/><circle cx="566.0" cy="445.1"/><circle cx="668.5" cy="424.0"/><circle cx="526.8" cy="441.1"/><circle cx="595.5" cy="363.0"/><circle cx="662.8" cy="343.7"/><circle cx="584.3" cy="442.7"/><circle cx="604.7" cy="436.7"/><circle cx="659.3" cy="315.7"/><circle cx="581.5" cy="418.9"/><circle cx="570.5" cy="411.3"/><circle cx="638.1" cy="384.3"/><circle cx="590.4" cy="378.4"/><circle cx="644.5" cy="401.9"/><circle cx="684.6" cy="328.1"/><circle cx="514.7" cy="391.4"/><circle cx="665.2" cy="394.0"/><circle cx="696.4" cy="356.8"/><circle cx="594.8" cy="422.1"/><circle cx="683.3" cy="447.9"/><circle cx="683.3" cy="366.0"/><circle cx="636.9" cy="449.9"/><circle cx="596.1" cy="448.8"/><circle cx="678.0" cy="319.0"/><circle cx="627.1" cy="389.0"/><circle cx="606.8" cy="389.4"/><circle cx="562.6" cy="405.0"/><circle cx="688.1" cy="424.9"/><circle cx="592.0" cy="353.4"/><circle cx="694.6" cy="329.2"/><circle cx="496.0" cy="422.8"/><circle cx="515.4" cy="428.1"/><circle cx="656.8" cy="414.3"/><circle cx="582.4" cy="389.8"/><circle cx="523.6" cy="445.8"/><circle cx="541.3" cy="432.5"/><circle cx="615.2" cy="390.8"/><circle cx="623.6" cy="354.1"/><circle cx="672.6" cy="448.4"/><circle cx="571.9" cy="389.9"/><circle cx="526.9" cy="395.2"/><circle cx="676.1" cy="382.1"/><circle cx="558.7" cy="439.0"/><circle cx="528.0" cy="413.1"/><circle cx="673.4" cy="403.2"/><circle cx="578.4" cy="424.9"/><circle cx="665.0" cy="433.5"/><circle cx="584.1" cy="359.7"/><circle cx="676.2" cy="331.5"/><circle cx="604.4" cy="356.9"/><circle cx="546.9" cy="439.1"/><circle cx="489.8" cy="410.1"/><circle cx="599.8" cy="376.9"/><circle cx="533.6" cy="380.3"/><circle cx="635.0" cy="423.2"/><circle cx="635.6" cy="376.5"/><circle cx="615.2" cy="442.4"/><circle cx="542.4" cy="448.7"/><circle cx="622.0" cy="341.5"/><circle cx="507.4" cy="433.7"/><circle cx="626.8" cy="439.4"/><circle cx="503.1" cy="442.2"/><circle cx="685.2" cy="396.4"/><circle cx="520.2" cy="380.2"/><circle cx="636.1" cy="340.9"/><circle cx="667.3" cy="330.9"/><circle cx="607.2" cy="424.1"/><circle cx="655.1" cy="355.4"/><circle cx="694.8" cy="373.6"/><circle cx="678.7" cy="388.8"/><circle cx="550.2" cy="393.1"/><circle cx="600.2" cy="353.3"/><circle cx="642.0" cy="417.0"/><circle cx="649.3" cy="412.0"/><circle cx="672.8" cy="386.5"/><circle cx="675.7" cy="429.8"/><circle cx="654.0" cy="349.0"/><circle cx="670.1" cy="379.1"/><circle cx="509.2" cy="422.9"/><circle cx="637.4" cy="439.1"/><circle cx="683.3" cy="409.7"/><circle cx="639.0" cy="400.3"/><circle cx="565.3" cy="371.2"/><circle cx="588.9" cy="408.5"/><circle cx="641.2" cy="444.8"/><circle cx="628.9" cy="416.6"/><circle cx="526.0" cy="419.2"/><circle cx="624.9" cy="397.6"/><circle cx="497.4" cy="385.5"/><circle cx="604.8" cy="365.3"/><circle cx="582.6" cy="406.4"/><circle cx="654.2" cy="408.3"/><circle cx="652.8" cy="360.8"/><circle cx="503.0" cy="383.0"/><circle cx="562.2" cy="418.5"/><circle cx="609.3" cy="381.2"/><circle cx="601.9" cy="381.9"/><circle cx="572.0" cy="423.8"/><circle cx="609.7" cy="446.9"/><circle cx="662.1" cy="387.0"/><circle cx="582.7" cy="367.8"/><circle cx="650.6" cy="327.1"/><circle cx="655.9" cy="334.3"/><circle cx="502.2" cy="409.0"/><circle cx="534.5" cy="403.9"/><circle cx="608.6" cy="346.1"/><circle cx="678.7" cy="325.5"/><circle cx="570.5" cy="442.1"/><circle cx="635.4" cy="428.6"/><circle cx="622.8" cy="426.4"/><circle cx="660.1" cy="400.8"/><circle cx="647.6" cy="387.8"/><circle cx="690.1" cy="429.6"/><circle cx="689.7" cy="318.4"/><circle cx="658.4" cy="439.8"/><circle cx="685.6" cy="311.0"/><circle cx="554.6" cy="405.1"/><circle cx="578.5" cy="351.3"/><circle cx="586.4" cy="403.0"/><circle cx="518.4" cy="385.4"/><circle cx="507.1" cy="415.4"/><circle cx="679.2" cy="353.4"/><circle cx="527.3" cy="408.0"/><circle cx="674.3" cy="419.5"/><circle cx="675.6" cy="356.6"/><circle cx="514.4" cy="381.3"/><circle cx="561.8" cy="363.6"/><circle cx="548.4" cy="448.7"/><circle cx="653.4" cy="383.2"/><circle cx="622.5" cy="366.4"/><circle cx="693.1" cy="365.1"/><circle cx="571.5" cy="395.6"/><circle cx="677.2" cy="411.7"/><circle cx="629.7" cy="398.2"/><circle cx="557.8" cy="391.0"/><circle cx="606.2" cy="398.2"/><circle cx="689.0" cy="417.0"/><circle cx="693.9" cy="414.7"/><circle cx="535.2" cy="423.3"/><circle cx="649.7" cy="311.2"/><circle cx="665.4" cy="403.2"/><circle cx="644.5" cy="426.2"/><circle cx="552.9" cy="361.7"/><circle cx="675.4" cy="363.0"/><circle cx="535.1" cy="386.1"/><circle cx="550.8" cy="387.5"/><circle cx="557.0" cy="413.7"/><circle cx="685.4" cy="305.4"/><circle cx="690.9" cy="389.1"/><circle cx="684.2" cy="417.3"/><circle cx="644.5" cy="358.3"/><circle cx="653.1" cy="365.8"/><circle cx="688.9" cy="370.7"/><circle cx="498.0" cy="393.9"/><circle cx="575.9" cy="412.5"/><circle cx="599.3" cy="391.8"/><circle cx="675.9" cy="305.5"/><circle cx="619.7" cy="400.7"/><circle cx="612.0" cy="357.1"/><circle cx="580.1" cy="384.9"/><circle cx="630.7" cy="409.1"/><circle cx="484.2" cy="391.6"/><circle cx="636.8" cy="334.7"/><circle cx="683.2" cy="429.2"/><circle cx="641.6" cy="408.1"/><circle cx="561.0" cy="397.3"/><circle cx="610.8" cy="409.5"/><circle cx="497.3" cy="433.1"/><circle cx="583.9" cy="378.8"/><circle cx="543.5" cy="418.9"/><circle cx="575.0" cy="373.6"/><circle cx="654.0" cy="445.7"/><circle cx="584.4" cy="373.4"/><circle cx="679.4" cy="347.5"/><circle cx="578.8" cy="449.3"/><circle cx="615.2" cy="430.8"/><circle cx="614.6" cy="362.8"/><circle cx="511.9" cy="404.3"/><circle cx="636.6" cy="351.9"/><circle cx="525.5" cy="380.1"/><circle cx="625.6" cy="404.0"/><circle cx="486.5" cy="418.5"/><circle cx="567.9" cy="405.0"/><circle cx="541.0" cy="438.2"/><circle cx="664.1" cy="350.3"/><circle cx="604.9" cy="430.3"/><circle cx="537.4" cy="408.2"/><circle cx="570.3" cy="376.3"/><circle cx="661.3" cy="373.5"/><circle cx="554.8" cy="448.7"/><circle cx="498.8" cy="439.0"/><circle cx="642.6" cy="363.9"/><circle cx="513.6" cy="444.6"/><circle cx="671.3" cy="410.5"/><circle cx="647.0" cy="393.3"/><circle cx="521.7" cy="439.3"/><circle cx="647.9" cy="333.7"/><circle cx="492.2" cy="443.6"/><circle cx="539.8" cy="401.3"/><circle cx="493.9" cy="381.6"/><circle cx="672.5" cy="336.2"/><circle cx="553.5" cy="437.7"/><circle cx="691.5" cy="446.1"/><circle cx="678.4" cy="449.6"/><circle cx="641.6" cy="322.2"/><circle cx="670.5" cy="351.7"/><circle cx="590.3" cy="418.2"/><circle cx="508.3" cy="384.4"/><circle cx="692.8" cy="380.9"/><circle cx="686.9" cy="343.0"/><circle cx="601.4" cy="346.2"/><circle cx="578.9" cy="434.6"/><circle cx="692.0" cy="354.4"/><circle cx="617.3" cy="354.5"/><circle cx="542.3" cy="395.2"/><circle cx="557.1" cy="428.1"/><circle cx="621.1" cy="418.8"/><circle cx="530.1" cy="435.6"/><circle cx="593.6" cy="373.4"/><circle cx="545.5" cy="374.4"/><circle cx="629.4" cy="448.3"/><circle cx="618.0" cy="411.5"/><circle cx="687.8" cy="357.4"/><circle cx="617.6" cy="438.0"/><circle cx="678.9" cy="368.6"/><circle cx="689.3" cy="301.3"/><circle cx="488.3" cy="384.5"/><circle cx="503.9" cy="391.9"/><circle cx="623.5" cy="414.0"/><circle cx="619.3" cy="361.6"/><circle cx="656.9" cy="423.0"/><circle cx="531.9" cy="393.2"/><circle cx="633.4" cy="367.6"/><circle cx="555.9" cy="368.1"/><circle cx="591.4" cy="402.5"/><circle cx="589.8" cy="392.9"/><circle cx="537.2" cy="394.5"/><circle cx="536.6" cy="418.7"/><circle cx="654.0" cy="392.7"/><circle cx="677.0" cy="338.2"/><circle cx="608.5" cy="433.8"/><circle cx="491.2" cy="450.2"/><circle cx="543.6" cy="410.6"/><circle cx="667.7" cy="441.0"/><circle cx="502.7" cy="420.0"/><circle cx="500.1" cy="429.0"/><circle cx="535.5" cy="430.4"/><circle cx="543.0" cy="424.4"/><circle cx="684.6" cy="322.3"/><circle cx="670.3" cy="397.8"/><circle cx="602.0" cy="421.3"/><circle cx="604.8" cy="337.0"/><circle cx="619.6" cy="377.8"/><circle cx="515.3" cy="418.4"/><circle cx="556.7" cy="421.4"/><circle cx="659.1" cy="409.3"/><circle cx="672.0" cy="369.3"/><circle cx="636.5" cy="393.2"/><circle cx="497.8" cy="411.1"/><circle cx="696.5" cy="425.2"/><circle cx="604.1" cy="409.0"/><circle cx="524.5" cy="399.8"/><circle cx="630.1" cy="361.4"/><circle cx="614.1" cy="377.8"/><circle cx="614.0" cy="396.1"/><circle cx="629.8" cy="423.4"/><circle cx="598.5" cy="415.3"/><circle cx="522.5" cy="390.8"/><circle cx="645.5" cy="434.3"/><circle cx="530.6" cy="446.4"/><circle cx="528.6" cy="431.0"/><circle cx="667.6" cy="336.7"/><circle cx="612.2" cy="401.9"/><circle cx="660.3" cy="323.2"/><circle cx="567.4" cy="436.0"/><circle cx="625.3" cy="431.7"/><circle cx="587.1" cy="386.4"/><circle cx="693.6" cy="397.7"/><circle cx="664.5" cy="326.6"/><circle cx="571.9" cy="362.2"/><circle cx="492.1" cy="416.2"/><circle cx="674.1" cy="443.8"/><circle cx="609.2" cy="417.5"/><circle cx="551.2" cy="382.1"/><circle cx="686.5" cy="441.7"/><circle cx="557.2" cy="382.0"/><circle cx="636.3" cy="361.9"/><circle cx="542.3" cy="386.5"/><circle cx="596.6" cy="429.1"/><circle cx="663.8" cy="319.6"/><circle cx="619.9" cy="388.3"/><circle cx="521.0" cy="413.0"/><circle cx="639.8" cy="368.5"/><circle cx="508.5" cy="394.8"/><circle cx="658.8" cy="366.3"/><circle cx="653.5" cy="432.9"/><circle cx="648.5" cy="399.0"/><circle cx="599.8" cy="398.4"/><circle cx="642.8" cy="342.4"/><circle cx="680.2" cy="307.5"/><circle cx="670.8" cy="346.7"/><circle cx="546.2" cy="390.3"/><circle cx="572.8" cy="383.6"/><circle cx="640.2" cy="329.0"/><circle cx="641.6" cy="350.9"/><circle cx="655.2" cy="309.4"/><circle cx="664.8" cy="419.9"/><circle cx="604.0" cy="372.6"/><circle cx="556.9" cy="358.8"/><circle cx="584.9" cy="432.0"/><circle cx="636.2" cy="445.0"/><circle cx="654.3" cy="375.1"/><circle cx="620.7" cy="372.0"/><circle cx="587.1" cy="422.0"/><circle cx="641.7" cy="335.9"/><circle cx="545.0" cy="402.7"/><circle cx="672.8" cy="327.8"/><circle cx="575.7" cy="444.7"/><circle cx="578.3" cy="395.6"/><circle cx="514.1" cy="449.5"/><circle cx="621.2" cy="347.4"/><circle cx="540.4" cy="414.5"/><circle cx="625.0" cy="359.1"/><circle cx="487.8" cy="432.8"/><circle cx="670.8" cy="430.1"/><circle cx="651.0" cy="345.1"/><circle cx="620.4" cy="446.3"/><circle cx="667.3" cy="386.2"/><circle cx="545.5" cy="381.5"/><circle cx="590.4" cy="449.3"/><circle cx="514.6" cy="436.0"/><circle cx="690.0" cy="375.9"/><circle cx="675.2" cy="397.3"/><circle cx="658.7" cy="350.6"/><circle cx="641.8" cy="450.3"/><circle cx="521.0" cy="432.6"/><circle cx="570.4" cy="400.3"/><circle cx="681.6" cy="358.5"/><circle cx="681.9" cy="333.1"/><circle cx="527.5" cy="375.8"/><circle cx="689.5" cy="337.7"/><circle cx="566.0" cy="423.3"/><circle cx="687.6" cy="381.6"/><circle cx="696.2" cy="316.4"/><circle cx="589.0" cy="365.4"/><circle cx="519.9" cy="420.9"/><circle cx="588.9" cy="436.9"/><circle cx="563.3" cy="410.9"/><circle cx="696.8" cy="346.5"/><circle cx="653.4" cy="340.0"/><circle cx="696.1" cy="436.9"/><circle cx="661.5" cy="308.8"/><circle cx="679.4" cy="394.4"/><circle cx="610.1" cy="339.1"/><circle cx="601.2" cy="442.1"/><circle cx="645.4" cy="381.2"/><circle cx="664.6" cy="445.8"/><circle cx="535.0" cy="437.7"/><circle cx="630.4" cy="356.0"/><circle cx="679.7" cy="432.9"/><circle cx="645.4" cy="376.2"/><circle cx="599.6" cy="359.8"/><circle cx="640.0" cy="421.9"/><circle cx="670.9" cy="310.3"/><circle cx="603.2" cy="403.2"/><circle cx="678.5" cy="313.4"/><circle cx="681.5" cy="378.2"/><circle cx="647.1" cy="323.7"/><circle cx="680.7" cy="401.6"/><circle cx="506.6" cy="400.5"/><circle cx="486.4" cy="404.5"/><circle cx="673.6" cy="435.2"/><circle cx="628.1" cy="347.9"/><circle cx="535.7" cy="367.4"/><circle cx="584.1" cy="426.1"/><circle cx="592.9" cy="439.5"/><circle cx="623.8" cy="408.7"/><circle cx="647.9" cy="351.7"/><circle cx="643.2" cy="438.7"/><circle cx="654.7" cy="324.4"/><circle cx="587.4" cy="414.2"/><circle cx="565.3" cy="385.2"/><circle cx="498.9" cy="416.6"/><circle cx="659.0" cy="447.6"/><circle cx="632.8" cy="387.3"/><circle cx="648.5" cy="421.7"/><circle cx="627.2" cy="371.3"/><circle cx="575.1" cy="404.5"/><circle cx="685.3" cy="350.0"/><circle cx="648.3" cy="339.7"/><circle cx="505.4" cy="405.2"/><circle cx="539.8" cy="379.7"/><circle cx="548.5" cy="428.1"/><circle cx="669.7" cy="391.2"/><circle cx="541.7" cy="443.5"/><circle cx="614.4" cy="370.9"/><circle cx="696.7" cy="444.0"/><circle cx="685.7" cy="404.0"/><circle cx="669.1" cy="363.2"/><circle cx="574.2" cy="437.9"/><circle cx="599.3" cy="436.2"/><circle cx="660.8" cy="381.4"/><circle cx="577.9" cy="368.8"/><circle cx="658.2" cy="342.2"/><circle cx="660.0" cy="434.9"/><circle cx="667.4" cy="357.3"/><circle cx="552.1" cy="398.5"/><circle cx="569.0" cy="367.3"/><circle cx="628.0" cy="366.0"/><circle cx="551.6" cy="414.6"/><circle cx="547.7" cy="407.4"/><circle cx="630.0" cy="381.9"/><circle cx="629.4" cy="340.9"/><circle cx="550.9" cy="373.5"/><circle cx="567.2" cy="392.5"/><circle cx="500.0" cy="446.7"/><circle cx="532.3" cy="408.9"/><circle cx="518.4" cy="444.8"/><circle cx="659.6" cy="394.7"/><circle cx="637.1" cy="415.9"/><circle cx="490.9" cy="438.6"/><circle cx="522.5" cy="404.6"/><circle cx="559.9" cy="447.8"/><circle cx="623.9" cy="449.8"/><circle cx="494.9" cy="398.0"/><circle cx="633.8" cy="433.5"/><circle cx="631.7" cy="439.5"/><circle cx="625.7" cy="444.2"/><circle cx="550.5" cy="366.5"/><circle cx="523.9" cy="424.2"/><circle cx="585.5" cy="396.2"/><circle cx="642.9" cy="389.8"/><circle cx="592.2" cy="348.4"/><circle cx="576.6" cy="420.2"/><circle cx="500.3" cy="401.6"/><circle cx="692.0" cy="360.4"/><circle cx="692.1" cy="421.4"/><circle cx="554.1" cy="442.6"/><circle cx="634.0" cy="329.8"/><circle cx="532.9" cy="415.1"/><circle cx="568.5" cy="427.7"/><circle cx="640.2" cy="356.0"/><circle cx="539.2" cy="373.4"/><circle cx="578.9" cy="439.5"/><circle cx="592.1" cy="383.0"/><circle cx="647.8" cy="448.3"/><circle cx="656.1" cy="388.2"/><circle cx="547.6" cy="360.3"/><circle cx="552.2" cy="431.2"/><circle cx="672.5" cy="322.5"/><circle cx="543.3" cy="369.9"/><circle cx="604.0" cy="448.5"/><circle cx="528.7" cy="424.8"/><circle cx="596.4" cy="402.2"/><circle cx="581.6" cy="399.6"/><circle cx="556.0" cy="376.3"/><circle cx="633.2" cy="403.2"/><circle cx="615.1" cy="383.2"/><circle cx="693.1" cy="305.2"/><circle cx="596.3" cy="386.4"/><circle cx="694.5" cy="450.1"/><circle cx="664.7" cy="408.6"/><circle cx="510.0" cy="440.8"/><circle cx="551.7" cy="421.1"/><circle cx="493.5" cy="388.5"/><circle cx="616.5" cy="405.3"/><circle cx="532.9" cy="372.6"/><circle cx="667.0" cy="313.5"/><circle cx="692.7" cy="311.7"/><circle cx="487.0" cy="445.7"/><circle cx="609.9" cy="374.8"/><circle cx="588.1" cy="370.2"/><circle cx="517.2" cy="406.4"/><circle cx="690.5" cy="435.6"/><circle cx="696.7" cy="406.2"/><circle cx="640.9" cy="432.1"/><circle cx="590.5" cy="429.1"/><circle cx="615.1" cy="339.1"/><circle cx="652.2" cy="427.6"/><circle cx="626.3" cy="378.0"/><circle cx="613.3" cy="351.7"/><circle cx="531.0" cy="419.9"/><circle cx="512.5" cy="412.6"/><circle cx="660.7" cy="360.6"/><circle cx="622.6" cy="436.0"/><circle cx="643.9" cy="315.7"/><circle cx="672.9" cy="317.5"/><circle cx="561.8" cy="358.0"/><circle cx="675.8" cy="372.8"/><circle cx="485.0" cy="437.9"/><circle cx="609.5" cy="394.3"/><circle cx="691.0" cy="324.4"/><circle cx="681.8" cy="338.4"/><circle cx="569.0" cy="419.2"/><circle cx="632.9" cy="344.5"/><circle cx="684.7" cy="316.0"/><circle cx="648.9" cy="371.4"/><circle cx="504.7" cy="427.1"/><circle cx="670.2" cy="416.2"/><circle cx="577.8" cy="359.0"/><circle cx="696.7" cy="339.9"/><circle cx="661.1" cy="336.7"/><circle cx="572.4" cy="432.6"/><circle cx="652.9" cy="419.2"/><circle cx="513.5" cy="386.1"/><circle cx="565.0" cy="400.2"/><circle cx="664.6" cy="368.2"/><circle cx="685.7" cy="436.7"/><circle cx="608.5" cy="353.0"/><circle cx="664.1" cy="426.1"/><circle cx="626.1" cy="336.9"/><circle cx="582.2" cy="411.5"/><circle cx="690.1" cy="347.6"/><circle cx="686.2" cy="391.3"/><circle cx="640.5" cy="377.8"/><circle cx="656.6" cy="319.7"/><circle cx="558.0" cy="408.5"/><circle cx="649.9" cy="379.3"/><circle cx="661.8" cy="413.4"/><circle cx="571.6" cy="450.1"/><circle cx="596.1" cy="443.9"/><circle cx="679.5" cy="442.9"/><circle cx="620.3" cy="383.3"/><circle cx="661.8" cy="330.7"/><circle cx="535.4" cy="447.4"/><circle cx="586.8" cy="352.1"/><circle cx="678.8" cy="416.4"/><circle cx="661.7" cy="355.1"/><circle cx="484.9" cy="409.9"/><circle cx="601.1" cy="341.2"/><circle cx="519.2" cy="400.3"/><circle cx="585.1" cy="449.1"/><circle cx="517.5" cy="395.6"/><circle cx="649.2" cy="405.3"/><circle cx="666.6" cy="372.6"/><circle cx="549.1" cy="443.5"/><circle cx="563.1" cy="428.4"/><circle cx="508.7" cy="408.8"/><circle cx="580.7" cy="429.5"/><circle cx="596.4" cy="345.8"/><circle cx="502.6" cy="396.5"/><circle cx="492.4" cy="393.3"/><circle cx="612.4" cy="426.9"/><circle cx="694.4" cy="334.1"/><circle cx="592.6" cy="397.2"/><circle cx="630.4" cy="375.0"/><circle cx="609.6" cy="364.0"/><circle cx="566.8" cy="414.9"/><circle cx="527.0" cy="450.3"/><circle cx="664.4" cy="378.2"/><circle cx="576.6" cy="379.9"/><circle cx="697.0" cy="390.9"/><circle cx="484.7" cy="425.1"/><circle cx="636.7" cy="406.8"/><circle cx="684.9" cy="373.9"/><circle cx="577.6" cy="390.9"/><circle cx="565.2" cy="440.3"/><circle cx="604.5" cy="414.1"/><circle cx="641.1" cy="396.0"/><circle cx="606.3" cy="443.3"/><circle cx="601.5" cy="387.3"/><circle cx="681.6" cy="301.8"/><circle cx="484.4" cy="449.9"/><circle cx="596.6" cy="380.7"/><circle cx="678.1" cy="438.3"/><circle cx="619.4" cy="395.0"/><circle cx="654.7" cy="400.8"/><circle cx="679.3" cy="406.7"/><circle cx="637.8" cy="345.5"/><circle cx="631.9" cy="335.2"/><circle cx="584.0" cy="437.4"/><circle cx="646.7" cy="366.7"/><circle cx="645.6" cy="347.1"/><circle cx="562.8" cy="389.7"/><circle cx="616.4" cy="449.4"/><circle cx="567.6" cy="359.0"/><circle cx="694.9" cy="431.8"/><circle cx="546.3" cy="434.0"/><circle cx="593.1" cy="412.4"/><circle cx="589.4" cy="357.5"/><circle cx="611.5" cy="386.4"/><circle cx="691.6" cy="403.2"/><circle cx="557.0" cy="400.3"/><circle cx="594.6" cy="433.6"/><circle cx="697.0" cy="368.4"/><circle cx="562.9" cy="381.0"/><circle cx="522.5" cy="374.5"/><circle cx="530.4" cy="383.9"/><circle cx="486.0" cy="380.1"/><circle cx="531.4" cy="398.2"/><circle cx="545.9" cy="365.0"/><circle cx="528.9" cy="402.7"/><circle cx="510.6" cy="429.6"/><circle cx="667.0" cy="450.0"/><circle cx="508.1" cy="379.6"/><circle cx="685.4" cy="386.5"/><circle cx="605.2" cy="377.8"/><circle cx="696.7" cy="351.7"/><circle cx="560.9" cy="369.2"/><circle cx="696.2" cy="385.4"/><circle cx="573.2" cy="416.6"/><circle cx="490.9" cy="422.6"/><circle cx="696.2" cy="322.4"/><circle cx="608.2" cy="369.6"/><circle cx="516.3" cy="376.7"/><circle cx="689.1" cy="332.0"/><circle cx="589.0" cy="443.7"/><circle cx="495.0" cy="428.6"/><circle cx="629.8" cy="428.9"/><circle cx="614.0" cy="415.7"/><circle cx="568.4" cy="380.7"/><circle cx="593.4" cy="368.5"/><circle cx="656.4" cy="329.3"/><circle cx="546.3" cy="414.7"/><circle cx="617.8" cy="425.4"/><circle cx="608.1" cy="405.2"/><circle cx="578.1" cy="408.2"/><circle cx="646.5" cy="443.5"/><circle cx="691.8" cy="440.4"/><circle cx="634.9" cy="397.8"/><circle cx="508.5" cy="446.2"/><circle cx="667.3" cy="341.6"/><circle cx="673.2" cy="425.7"/><circle cx="595.1" cy="357.5"/><circle cx="681.3" cy="383.1"/><circle cx="521.3" cy="450.1"/><circle cx="621.1" cy="441.4"/><circle cx="688.0" cy="364.9"/><circle cx="676.6" cy="343.4"/><circle cx="552.4" cy="409.7"/><circle cx="619.4" cy="336.5"/><circle cx="613.1" cy="436.0"/><circle cx="687.3" cy="412.4"/><circle cx="674.9" cy="392.3"/><circle cx="509.9" cy="389.6"/><circle cx="631.5" cy="393.4"/><circle cx="594.3" cy="391.0"/><circle cx="582.4" cy="354.5"/><circle cx="623.4" cy="392.2"/><circle cx="565.4" cy="450.1"/><circle cx="688.3" cy="449.8"/><circle cx="546.8" cy="397.4"/><circle cx="692.6" cy="342.8"/><circle cx="498.6" cy="379.6"/><circle cx="650.0" cy="356.0"/><circle cx="660.0" cy="418.5"/><circle cx="579.6" cy="375.7"/><circle cx="556.0" cy="395.4"/><circle cx="503.4" cy="436.5"/><circle cx="655.9" cy="370.2"/><circle cx="645.5" cy="328.3"/><circle cx="536.7" cy="442.4"/><circle cx="647.7" cy="416.7"/><circle cx="531.6" cy="441.4"/><circle cx="625.0" cy="382.7"/><circle cx="644.1" cy="371.5"/><circle cx="636.8" cy="325.4"/><circle cx="604.2" cy="350.6"/><circle cx="490.2" cy="400.6"/><circle cx="605.8" cy="342.1"/><circle cx="689.7" cy="394.6"/><circle cx="631.9" cy="351.1"/><circle cx="635.1" cy="357.2"/><circle cx="643.6" cy="412.5"/><circle cx="635.1" cy="411.4"/><circle cx="620.0" cy="431.5"/><circle cx="575.1" cy="428.6"/><circle cx="498.1" cy="406.0"/><circle cx="602.1" cy="426.1"/><circle cx="666.3" cy="308.1"/><circle cx="555.5" cy="386.5"/><circle cx="541.1" cy="364.7"/><circle cx="655.0" cy="450.3"/><circle cx="598.7" cy="371.4"/><circle cx="572.7" cy="357.5"/><circle cx="639.9" cy="405.5"/><circle cx="581.6" cy="357.0"/><circle cx="616.0" cy="424.1"/><circle cx="583.4" cy="412.5"/><circle cx="635.8" cy="353.5"/><circle cx="561.5" cy="444.6"/><circle cx="497.2" cy="442.9"/><circle cx="660.3" cy="367.7"/><circle cx="537.9" cy="436.5"/><circle cx="670.1" cy="307.4"/><circle cx="552.3" cy="401.3"/><circle cx="698.2" cy="321.2"/><circle cx="626.1" cy="416.4"/><circle cx="658.2" cy="397.1"/><circle cx="652.3" cy="383.6"/><circle cx="521.7" cy="428.9"/><circle cx="609.8" cy="424.6"/><circle cx="615.7" cy="430.7"/><circle cx="597.0" cy="438.2"/><circle cx="495.4" cy="450.4"/><circle cx="686.1" cy="362.9"/><circle cx="602.7" cy="450.6"/><circle cx="606.2" cy="407.5"/><circle cx="685.9" cy="318.0"/><circle cx="555.7" cy="383.5"/><circle cx="645.6" cy="380.3"/><circle cx="501.9" cy="451.5"/><circle cx="633.1" cy="433.2"/><circle cx="592.7" cy="420.2"/><circle cx="570.3" cy="357.3"/><circle cx="558.9" cy="406.6"/><circle cx="495.8" cy="380.4"/><circle cx="587.3" cy="448.1"/><circle cx="657.5" cy="350.7"/><circle cx="643.4" cy="450.9"/><circle cx="527.3" cy="421.4"/><circle cx="559.1" cy="438.4"/><circle cx="688.1" cy="327.4"/><circle cx="528.7" cy="389.6"/><circle cx="686.7" cy="334.1"/><circle cx="579.1" cy="363.3"/><circle cx="506.2" cy="408.1"/><circle cx="657.6" cy="360.4"/><circle cx="609.7" cy="450.6"/><circle cx="578.0" cy="370.7"/><circle cx="633.7" cy="375.0"/><circle cx="661.2" cy="451.3"/><circle cx="696.8" cy="416.2"/><circle cx="581.3" cy="402.6"/><circle cx="557.3" cy="450.9"/><circle cx="550.1" cy="423.0"/><circle cx="670.8" cy="427.1"/><circle cx="671.4" cy="387.0"/><circle cx="644.8" cy="371.9"/><circle cx="640.0" cy="375.6"/><circle cx="601.4" cy="373.3"/><circle cx="680.8" cy="348.5"/><circle cx="603.1" cy="425.8"/><circle cx="697.8" cy="371.6"/><circle cx="687.0" cy="376.8"/><circle cx="690.5" cy="417.3"/><circle cx="651.2" cy="369.9"/><circle cx="636.6" cy="327.1"/><circle cx="554.8" cy="448.3"/><circle cx="499.9" cy="405.4"/><circle cx="512.1" cy="395.0"/><circle cx="503.9" cy="414.2"/><circle cx="565.5" cy="403.0"/><circle cx="629.9" cy="449.0"/><circle cx="541.9" cy="363.2"/><circle cx="577.0" cy="438.9"/><circle cx="619.3" cy="411.7"/><circle cx="697.1" cy="432.6"/><circle cx="496.3" cy="451.3"/><circle cx="695.0" cy="451.5"/><circle cx="697.4" cy="400.4"/><circle cx="626.9" cy="401.9"/><circle cx="667.7" cy="451.3"/><circle cx="640.3" cy="430.1"/><circle cx="628.6" cy="437.3"/><circle cx="698.1" cy="423.0"/><circle cx="575.9" cy="446.2"/><circle cx="548.2" cy="381.4"/><circle cx="612.5" cy="369.9"/><circle cx="554.2" cy="358.4"/><circle cx="512.3" cy="411.9"/><circle cx="642.0" cy="347.6"/><circle cx="489.0" cy="391.6"/><circle cx="682.2" cy="302.9"/><circle cx="573.2" cy="418.7"/><circle cx="646.0" cy="315.8"/><circle cx="690.5" cy="303.0"/><circle cx="674.4" cy="329.7"/><circle cx="515.3" cy="374.7"/><circle cx="697.4" cy="351.2"/><circle cx="547.7" cy="387.6"/><circle cx="615.5" cy="362.7"/><circle cx="623.4" cy="395.3"/><circle cx="627.4" cy="423.6"/><circle cx="555.2" cy="414.0"/><circle cx="605.3" cy="394.9"/><circle cx="585.8" cy="345.7"/><circle cx="585.6" cy="451.6"/><circle cx="672.5" cy="393.0"/><circle cx="679.7" cy="358.5"/><circle cx="534.0" cy="442.2"/><circle cx="672.6" cy="338.3"/><circle cx="513.7" cy="387.2"/><circle cx="652.9" cy="304.2"/><circle cx="560.6" cy="379.4"/><circle cx="495.8" cy="420.4"/><circle cx="685.9" cy="421.8"/><circle cx="667.8" cy="435.5"/><circle cx="650.4" cy="441.8"/><circle cx="593.0" cy="379.5"/><circle cx="698.1" cy="361.0"/><circle cx="654.9" cy="431.5"/><circle cx="649.0" cy="339.7"/><circle cx="643.9" cy="330.0"/><circle cx="611.8" cy="346.3"/><circle cx="484.2" cy="384.6"/><circle cx="527.7" cy="381.2"/><circle cx="607.3" cy="450.9"/><circle cx="627.6" cy="410.3"/><circle cx="588.9" cy="426.6"/><circle cx="591.1" cy="395.5"/><circle cx="645.0" cy="424.7"/><circle cx="663.1" cy="423.4"/><circle cx="535.2" cy="428.5"/><circle cx="668.5" cy="449.7"/><circle cx="516.6" cy="446.3"/><circle cx="533.5" cy="365.9"/><circle cx="513.3" cy="451.3"/><circle cx="531.6" cy="435.7"/><circle cx="582.2" cy="432.7"/><circle cx="570.1" cy="431.0"/><circle cx="693.1" cy="373.9"/><circle cx="680.7" cy="322.0"/><circle cx="676.3" cy="300.4"/><circle cx="612.2" cy="419.0"/><circle cx="484.5" cy="437.0"/><circle cx="574.2" cy="400.5"/><circle cx="633.6" cy="451.2"/><circle cx="697.2" cy="336.1"/><circle cx="605.0" cy="366.7"/><circle cx="683.2" cy="433.0"/><circle cx="597.7" cy="451.0"/><circle cx="598.7" cy="421.0"/><circle cx="522.2" cy="413.3"/><circle cx="565.6" cy="435.6"/><circle cx="578.6" cy="390.0"/><circle cx="507.3" cy="443.2"/><circle cx="587.6" cy="353.7"/><circle cx="546.4" cy="417.0"/><circle cx="694.1" cy="327.8"/><circle cx="538.0" cy="449.6"/><circle cx="627.3" cy="377.1"/><circle cx="621.2" cy="367.0"/><circle cx="517.7" cy="451.3"/><circle cx="691.9" cy="438.2"/><circle cx="630.7" cy="366.7"/><circle cx="660.7" cy="429.6"/><circle cx="562.5" cy="366.5"/><circle cx="628.1" cy="451.5"/><circle cx="664.3" cy="311.0"/><circle cx="585.9" cy="419.6"/><circle cx="663.0" cy="390.8"/><circle cx="581.3" cy="451.5"/><circle cx="518.9" cy="402.9"/><circle cx="677.0" cy="425.7"/><circle cx="591.2" cy="404.1"/><circle cx="606.2" cy="353.2"/><circle cx="674.5" cy="432.3"/><circle cx="504.4" cy="420.7"/><circle cx="490.8" cy="451.1"/><circle cx="630.4" cy="387.4"/><circle cx="697.6" cy="434.5"/><circle cx="691.3" cy="348.7"/><circle cx="635.3" cy="423.8"/><circle cx="685.7" cy="385.3"/><circle cx="625.4" cy="361.2"/><circle cx="689.8" cy="410.1"/><circle cx="616.4" cy="352.7"/><circle cx="682.5" cy="368.9"/><circle cx="697.8" cy="336.3"/><circle cx="621.2" cy="405.9"/><circle cx="654.3" cy="411.8"/><circle cx="602.8" cy="414.1"/><circle cx="607.6" cy="430.4"/><circle cx="653.1" cy="317.1"/><circle cx="553.7" cy="377.2"/><circle cx="678.2" cy="364.6"/><circle cx="571.0" cy="406.6"/><circle cx="563.8" cy="385.6"/><circle cx="546.0" cy="396.2"/><circle cx="675.5" cy="440.7"/><circle cx="495.0" cy="401.0"/><circle cx="600.1" cy="340.3"/><circle cx="547.5" cy="405.3"/><circle cx="599.2" cy="393.0"/><circle cx="602.3" cy="451.6"/><circle cx="566.3" cy="416.0"/><circle cx="633.3" cy="344.4"/><circle cx="587.6" cy="360.7"/><circle cx="666.1" cy="381.8"/><circle cx="571.2" cy="372.7"/><circle cx="581.1" cy="396.5"/><circle cx="542.0" cy="426.0"/><circle cx="490.7" cy="411.9"/><circle cx="528.6" cy="398.7"/><circle cx="618.2" cy="438.6"/><circle cx="627.5" cy="355.3"/><circle cx="623.2" cy="432.2"/><circle cx="659.4" cy="448.9"/><circle cx="643.6" cy="413.1"/><circle cx="684.0" cy="399.3"/><circle cx="697.8" cy="395.6"/><circle cx="645.4" cy="393.5"/><circle cx="596.4" cy="427.0"/><circle cx="634.1" cy="333.4"/><circle cx="600.0" cy="444.5"/><circle cx="693.7" cy="311.1"/><circle cx="612.0" cy="438.2"/><circle cx="668.9" cy="399.7"/><circle cx="697.0" cy="401.2"/><circle cx="693.7" cy="450.3"/><circle cx="613.1" cy="451.6"/><circle cx="509.5" cy="450.3"/><circle cx="683.7" cy="440.6"/><circle cx="620.8" cy="381.6"/><circle cx="638.8" cy="318.4"/><circle cx="632.9" cy="441.6"/><circle cx="598.4" cy="400.0"/><circle cx="587.6" cy="384.4"/><circle cx="697.7" cy="378.6"/><circle cx="502.2" cy="447.9"/><circle cx="686.7" cy="447.3"/><circle cx="488.5" cy="405.3"/><circle cx="657.2" cy="323.4"/><circle cx="614.6" cy="406.5"/><circle cx="570.7" cy="425.0"/><circle cx="626.4" cy="349.2"/><circle cx="656.5" cy="343.0"/><circle cx="610.3" cy="336.9"/><circle cx="698.0" cy="451.4"/><circle cx="637.2" cy="391.6"/><circle cx="592.6" cy="413.5"/><circle cx="656.7" cy="378.1"/><circle cx="556.5" cy="365.2"/><circle cx="572.6" cy="451.4"/><circle cx="593.8" cy="351.9"/><circle cx="618.4" cy="340.2"/><circle cx="547.8" cy="359.9"/><circle cx="607.3" cy="387.0"/><circle cx="679.8" cy="390.6"/><circle cx="619.3" cy="417.8"/><circle cx="656.8" cy="437.3"/><circle cx="628.6" cy="330.4"/><circle cx="698.0" cy="366.2"/><circle cx="570.0" cy="390.8"/><circle cx="662.7" cy="345.6"/><circle cx="611.4" cy="393.5"/><circle cx="656.2" cy="403.5"/><circle cx="564.5" cy="353.4"/><circle cx="668.4" cy="419.4"/><circle cx="544.4" cy="449.8"/><circle cx="678.2" cy="451.0"/><circle cx="504.0" cy="384.3"/><circle cx="656.3" cy="418.3"/><circle cx="592.6" cy="451.6"/><circle cx="635.6" cy="399.5"/><circle cx="676.5" cy="403.5"/><circle cx="500.8" cy="425.6"/><circle cx="658.4" cy="385.4"/><circle cx="640.5" cy="335.9"/><circle cx="665.7" cy="362.2"/><circle cx="526.2" cy="406.7"/><circle cx="561.0" cy="451.0"/><circle cx="670.5" cy="321.4"/><circle cx="547.3" cy="430.2"/><circle cx="576.2" cy="430.5"/><circle cx="653.6" cy="392.3"/><circle cx="662.3" cy="415.3"/><circle cx="484.1" cy="410.8"/><circle cx="539.3" cy="378.4"/><circle cx="526.5" cy="439.2"/><circle cx="559.3" cy="421.9"/><circle cx="536.4" cy="401.8"/><circle cx="541.7" cy="387.6"/><circle cx="528.2" cy="415.1"/><circle cx="604.6" cy="347.3"/><circle cx="529.4" cy="451.1"/><circle cx="486.8" cy="379.1"/><circle cx="585.0" cy="391.5"/><circle cx="688.5" cy="369.6"/><circle cx="535.2" cy="451.2"/><circle cx="563.0" cy="451.1"/><circle cx="624.6" cy="442.2"/><circle cx="630.1" cy="394.1"/><circle cx="683.2" cy="340.5"/><circle cx="507.7" cy="451.2"/><circle cx="619.8" cy="447.8"/><circle cx="641.2" cy="448.9"/><circle cx="616.7" cy="400.0"/><circle cx="532.8" cy="375.0"/><circle cx="626.0" cy="371.2"/><circle cx="517.7" cy="434.3"/><circle cx="575.9" cy="451.7"/><circle cx="601.6" cy="431.9"/><circle cx="614.5" cy="443.6"/><circle cx="664.1" cy="322.4"/><circle cx="649.9" cy="361.2"/><circle cx="697.2" cy="331.7"/><circle cx="637.3" cy="367.4"/><circle cx="691.4" cy="426.1"/><circle cx="553.9" cy="371.0"/><circle cx="558.7" cy="400.5"/><circle cx="697.4" cy="412.0"/><circle cx="659.7" cy="336.9"/><circle cx="618.7" cy="451.1"/><circle cx="677.5" cy="342.4"/><circle cx="661.1" cy="304.2"/><circle cx="585.2" cy="370.9"/><circle cx="697.1" cy="342.7"/><circle cx="547.6" cy="450.9"/><circle cx="640.3" cy="357.8"/><circle cx="609.4" cy="375.8"/><circle cx="546.3" cy="374.8"/><circle cx="510.7" cy="378.9"/><circle cx="491.2" cy="424.8"/><circle cx="595.3" cy="387.4"/><circle cx="509.7" cy="402.3"/><circle cx="641.3" cy="418.7"/><circle cx="640.3" cy="440.3"/><circle cx="675.6" cy="414.4"/><circle cx="553.7" cy="389.6"/><circle cx="506.3" cy="433.0"/><circle cx="532.9" cy="410.9"/><circle cx="646.9" cy="406.4"/><circle cx="660.0" cy="442.4"/><circle cx="521.9" cy="443.3"/><circle cx="684.5" cy="354.0"/><circle cx="610.2" cy="412.5"/><circle cx="606.1" cy="445.6"/><circle cx="488.5" cy="449.5"/><circle cx="698.0" cy="356.6"/><circle cx="595.2" cy="367.0"/><circle cx="691.8" cy="396.5"/><circle cx="670.3" cy="377.1"/><circle cx="607.9" cy="400.3"/><circle cx="672.6" cy="451.3"/><circle cx="663.8" cy="352.7"/><circle cx="692.7" cy="359.3"/><circle cx="519.0" cy="396.3"/><circle cx="648.6" cy="309.5"/><circle cx="677.3" cy="378.7"/><circle cx="697.3" cy="316.7"/><circle cx="576.4" cy="353.7"/><circle cx="635.9" cy="415.8"/><circle cx="685.4" cy="405.5"/><circle cx="520.8" cy="377.3"/><circle cx="678.6" cy="335.7"/><circle cx="554.3" cy="429.3"/><circle cx="656.0" cy="309.6"/><circle cx="655.6" cy="451.1"/><circle cx="651.0" cy="333.9"/><circle cx="632.9" cy="405.3"/><circle cx="694.3" cy="367.6"/><circle cx="484.0" cy="451.5"/><circle cx="601.8" cy="380.2"/><circle cx="496.1" cy="430.6"/><circle cx="501.1" cy="377.4"/><circle cx="561.2" cy="412.7"/><circle cx="621.5" cy="345.6"/><circle cx="689.9" cy="451.7"/><circle cx="615.1" cy="332.3"/><circle cx="618.2" cy="373.9"/><circle cx="695.6" cy="444.4"/><circle cx="569.9" cy="450.9"/><circle cx="505.6" cy="391.3"/><circle cx="563.6" cy="360.4"/><circle cx="646.5" cy="355.3"/><circle cx="676.7" cy="450.4"/><circle cx="647.5" cy="323.9"/><circle cx="650.8" cy="399.8"/><circle cx="683.3" cy="414.1"/><circle cx="583.0" cy="378.9"/><circle cx="666.5" cy="441.4"/><circle cx="566.8" cy="448.4"/><circle cx="523.4" cy="451.1"/><circle cx="665.1" cy="406.8"/><circle cx="670.4" cy="314.7"/><circle cx="596.3" cy="359.4"/><circle cx="559.3" cy="392.9"/><circle cx="564.8" cy="427.4"/><circle cx="698.1" cy="417.0"/><circle cx="637.4" cy="382.2"/><circle cx="643.0" cy="387.8"/><circle cx="594.6" cy="447.3"/><circle cx="643.8" cy="362.8"/><circle cx="697.7" cy="405.8"/><circle cx="583.1" cy="439.6"/><circle cx="568.2" cy="379.9"/><circle cx="697.6" cy="429.4"/><circle cx="677.2" cy="307.2"/><circle cx="664.9" cy="329.3"/><circle cx="535.2" cy="421.4"/><circle cx="592.5" cy="346.0"/><circle cx="604.9" cy="359.3"/><circle cx="547.9" cy="368.5"/><circle cx="664.4" cy="374.9"/><circle cx="492.4" cy="374.9"/><circle cx="686.4" cy="296.0"/><circle cx="518.4" cy="383.1"/><circle cx="540.9" cy="451.7"/><circle cx="521.2" cy="450.3"/><circle cx="646.2" cy="431.8"/><circle cx="589.9" cy="440.3"/><circle cx="600.0" cy="353.4"/><circle cx="486.2" cy="420.0"/><circle cx="697.7" cy="444.8"/><circle cx="697.5" cy="407.2"/><circle cx="562.8" cy="373.6"/><circle cx="498.2" cy="388.1"/><circle cx="551.8" cy="451.6"/><circle cx="500.1" cy="437.6"/><circle cx="697.3" cy="384.0"/><circle cx="668.4" cy="367.7"/><circle cx="697.5" cy="439.8"/><circle cx="697.5" cy="388.7"/><circle cx="606.7" cy="331.8"/><circle cx="692.4" cy="381.9"/><circle cx="620.4" cy="357.4"/><circle cx="545.0" cy="443.1"/><circle cx="697.2" cy="318.1"/><circle cx="680.7" cy="329.3"/><circle cx="514.2" cy="428.5"/><circle cx="642.8" cy="399.8"/><circle cx="560.3" cy="432.2"/><circle cx="623.6" cy="334.1"/><circle cx="506.5" cy="374.1"/><circle cx="697.5" cy="340.9"/><circle cx="691.3" cy="339.0"/><circle cx="616.6" cy="390.1"/><circle cx="683.0" cy="451.3"/><circle cx="531.5" cy="449.5"/><circle cx="611.8" cy="357.3"/><circle cx="650.3" cy="416.4"/><circle cx="568.0" cy="442.4"/><circle cx="579.7" cy="348.3"/><circle cx="629.0" cy="337.3"/><circle cx="604.3" cy="439.3"/><circle cx="552.1" cy="441.2"/><circle cx="507.5" cy="425.9"/><circle cx="652.0" cy="348.2"/><circle cx="521.0" cy="388.6"/><circle cx="678.5" cy="313.5"/><circle cx="649.9" cy="448.3"/><circle cx="493.1" cy="436.7"/><circle cx="521.3" cy="370.8"/><circle cx="534.8" cy="393.2"/><circle cx="591.8" cy="373.2"/><circle cx="623.2" cy="451.7"/><circle cx="688.9" cy="390.6"/><circle cx="671.4" cy="408.8"/><circle cx="635.2" cy="361.2"/><circle cx="488.7" cy="441.3"/><circle cx="697.4" cy="346.7"/><circle cx="486.6" cy="430.8"/><circle cx="672.2" cy="361.8"/><circle cx="500.7" cy="398.3"/><circle cx="510.8" cy="418.2"/><circle cx="528.1" cy="370.6"/><circle cx="623.7" cy="388.5"/><circle cx="685.0" cy="309.0"/><circle cx="672.9" cy="355.8"/><circle cx="690.7" cy="321.9"/><circle cx="528.9" cy="427.2"/><circle cx="638.7" cy="451.0"/><circle cx="670.9" cy="350.1"/><circle cx="581.1" cy="425.6"/><circle cx="568.6" cy="364.5"/><circle cx="698.1" cy="325.6"/><circle cx="497.0" cy="413.7"/><circle cx="674.8" cy="370.1"/><circle cx="577.1" cy="382.6"/><circle cx="489.2" cy="399.0"/><circle cx="613.0" cy="381.2"/><circle cx="579.6" cy="419.3"/><circle cx="568.2" cy="397.6"/><circle cx="651.8" cy="425.5"/><circle cx="665.0" cy="339.7"/><circle cx="533.0" cy="384.2"/><circle cx="539.6" cy="411.4"/><circle cx="695.7" cy="353.6"/><circle cx="591.6" cy="432.6"/><circle cx="544.3" cy="436.8"/><circle cx="540.3" cy="370.0"/><circle cx="658.6" cy="329.6"/><circle cx="600.4" cy="405.7"/><circle cx="518.5" cy="421.8"/><circle cx="513.3" cy="440.2"/><circle cx="648.9" cy="451.2"/><circle cx="696.7" cy="422.8"/><circle cx="576.2" cy="413.0"/><circle cx="492.4" cy="385.4"/><circle cx="659.9" cy="315.6"/><circle cx="695.5" cy="389.8"/><circle cx="663.0" cy="400.8"/><circle cx="725.4" cy="384.4"/><circle cx="720.0" cy="389.4"/><circle cx="753.6" cy="302.0"/><circle cx="740.2" cy="359.5"/><circle cx="734.1" cy="256.3"/><circle cx="747.3" cy="179.5"/><circle cx="746.6" cy="221.6"/><circle cx="730.3" cy="325.4"/><circle cx="734.8" cy="204.2"/><circle cx="756.5" cy="340.7"/><circle cx="730.6" cy="290.8"/><circle cx="745.5" cy="356.6"/><circle cx="757.5" cy="296.3"/><circle cx="740.0" cy="354.1"/><circle cx="747.2" cy="302.3"/><circle cx="750.2" cy="265.9"/><circle cx="753.6" cy="321.1"/><circle cx="750.3" cy="354.2"/><circle cx="755.7" cy="180.8"/><circle cx="752.7" cy="270.5"/><circle cx="744.2" cy="251.4"/><circle cx="759.7" cy="352.5"/><circle cx="744.9" cy="264.4"/><circle cx="744.3" cy="324.1"/><circle cx="733.4" cy="340.6"/><circle cx="736.0" cy="229.9"/><circle cx="748.1" cy="273.6"/><circle cx="735.3" cy="178.5"/><circle cx="760.5" cy="326.4"/><circle cx="760.7" cy="358.7"/><circle cx="729.9" cy="284.1"/><circle cx="764.5" cy="338.9"/><circle cx="747.4" cy="235.6"/><circle cx="737.4" cy="304.7"/><circle cx="733.4" cy="274.8"/><circle cx="749.0" cy="318.1"/><circle cx="757.7" cy="207.9"/><circle cx="731.0" cy="309.3"/><circle cx="746.3" cy="246.6"/><circle cx="749.0" cy="186.0"/><circle cx="734.5" cy="317.3"/><circle cx="751.1" cy="242.4"/><circle cx="751.5" cy="294.8"/><circle cx="744.8" cy="291.1"/><circle cx="753.7" cy="227.0"/><circle cx="742.3" cy="181.6"/><circle cx="742.8" cy="285.3"/><circle cx="755.8" cy="330.7"/><circle cx="732.1" cy="348.5"/><circle cx="736.1" cy="170.9"/><circle cx="744.6" cy="364.0"/><circle cx="741.1" cy="202.1"/><circle cx="734.1" cy="237.8"/><circle cx="738.4" cy="289.2"/><circle cx="747.0" cy="309.5"/><circle cx="757.9" cy="276.5"/><circle cx="759.5" cy="290.8"/><circle cx="735.7" cy="188.2"/><circle cx="757.3" cy="282.9"/><circle cx="761.4" cy="286.2"/><circle cx="750.1" cy="374.0"/><circle cx="750.3" cy="324.9"/><circle cx="759.8" cy="334.0"/><circle cx="731.6" cy="183.6"/><circle cx="735.1" cy="353.6"/><circle cx="728.9" cy="190.3"/><circle cx="740.1" cy="267.2"/><circle cx="754.9" cy="361.3"/><circle cx="729.3" cy="299.9"/><circle cx="735.3" cy="210.4"/><circle cx="739.1" cy="330.9"/><circle cx="741.7" cy="312.3"/><circle cx="752.0" cy="287.5"/><circle cx="752.7" cy="193.8"/><circle cx="743.1" cy="272.2"/><circle cx="741.4" cy="318.9"/><circle cx="739.0" cy="280.3"/><circle cx="740.1" cy="219.4"/><circle cx="749.3" cy="366.1"/><circle cx="729.5" cy="214.0"/><circle cx="738.5" cy="192.6"/><circle cx="751.5" cy="199.4"/><circle cx="757.8" cy="216.9"/><circle cx="746.7" cy="212.7"/><circle cx="732.0" cy="248.6"/><circle cx="750.3" cy="250.1"/><circle cx="735.7" cy="335.2"/><circle cx="754.2" cy="260.7"/><circle cx="730.3" cy="230.6"/><circle cx="748.8" cy="341.6"/><circle cx="750.0" cy="331.5"/><circle cx="738.8" cy="344.3"/><circle cx="733.4" cy="329.3"/><circle cx="749.8" cy="257.1"/><circle cx="739.8" cy="246.5"/><circle cx="733.7" cy="225.4"/><circle cx="752.5" cy="347.4"/><circle cx="741.7" cy="212.0"/><circle cx="759.8" cy="345.2"/><circle cx="755.8" cy="368.5"/><circle cx="736.9" cy="321.9"/><circle cx="729.2" cy="333.0"/><circle cx="744.2" cy="349.8"/><circle cx="741.4" cy="337.8"/><circle cx="743.2" cy="277.5"/><circle cx="733.0" cy="295.1"/><circle cx="741.7" cy="239.7"/><circle cx="752.5" cy="217.7"/><circle cx="728.9" cy="207.1"/><circle cx="728.8" cy="352.7"/><circle cx="731.3" cy="261.2"/><circle cx="746.9" cy="195.9"/><circle cx="741.2" cy="186.7"/><circle cx="741.8" cy="232.2"/><circle cx="729.0" cy="195.1"/><circle cx="731.6" cy="279.3"/><circle cx="755.5" cy="222.1"/><circle cx="745.9" cy="170.2"/><circle cx="740.3" cy="259.5"/><circle cx="755.9" cy="265.9"/><circle cx="752.2" cy="280.6"/><circle cx="730.8" cy="219.0"/><circle cx="755.6" cy="309.1"/><circle cx="741.7" cy="226.0"/><circle cx="735.6" cy="363.4"/><circle cx="731.2" cy="376.7"/><circle cx="746.4" cy="281.3"/><circle cx="745.8" cy="205.3"/><circle cx="735.9" cy="264.6"/><circle cx="738.0" cy="382.7"/><circle cx="751.8" cy="204.7"/><circle cx="735.6" cy="196.9"/><circle cx="729.4" cy="171.3"/><circle cx="741.7" cy="175.4"/><circle cx="728.7" cy="236.1"/><circle cx="740.1" cy="207.3"/><circle cx="757.9" cy="192.1"/><circle cx="759.1" cy="378.9"/><circle cx="739.1" cy="295.2"/><circle cx="752.4" cy="237.1"/><circle cx="734.7" cy="243.6"/><circle cx="729.8" cy="271.3"/><circle cx="736.5" cy="309.9"/><circle cx="742.2" cy="306.0"/><circle cx="737.8" cy="349.4"/><circle cx="743.7" cy="329.1"/><circle cx="752.4" cy="176.0"/><circle cx="753.8" cy="212.1"/><circle cx="748.0" cy="230.5"/><circle cx="729.3" cy="200.9"/><circle cx="755.0" cy="325.8"/><circle cx="736.5" cy="250.7"/><circle cx="753.5" cy="315.2"/><circle cx="728.6" cy="265.8"/><circle cx="746.9" cy="336.5"/><circle cx="728.9" cy="254.7"/><circle cx="730.5" cy="176.4"/><circle cx="738.3" cy="272.3"/><circle cx="734.5" cy="300.2"/><circle cx="729.8" cy="344.3"/><circle cx="729.4" cy="242.4"/><circle cx="747.2" cy="190.9"/><circle cx="756.3" cy="202.5"/><circle cx="741.2" cy="300.4"/><circle cx="728.8" cy="319.8"/><circle cx="730.8" cy="314.1"/><circle cx="735.1" cy="285.4"/><circle cx="745.3" cy="258.9"/><circle cx="754.4" cy="187.5"/><circle cx="762.0" cy="298.2"/><circle cx="740.5" cy="373.6"/><circle cx="746.4" cy="297.5"/><circle cx="753.8" cy="232.1"/><circle cx="736.0" cy="215.4"/><circle cx="743.7" cy="344.0"/><circle cx="728.6" cy="338.0"/><circle cx="728.6" cy="359.2"/><circle cx="751.8" cy="336.5"/><circle cx="749.9" cy="359.2"/><circle cx="729.1" cy="223.6"/><circle cx="741.6" cy="196.5"/><circle cx="753.1" cy="275.4"/><circle cx="734.1" cy="269.2"/><circle cx="728.6" cy="372.4"/><circle cx="737.3" cy="182.9"/><circle cx="751.0" cy="306.7"/><circle cx="740.1" cy="168.2"/><circle cx="758.8" cy="364.2"/><circle cx="757.8" cy="271.4"/><circle cx="739.9" cy="254.4"/><circle cx="747.7" cy="346.6"/><circle cx="754.6" cy="351.8"/><circle cx="746.6" cy="240.5"/><circle cx="735.4" cy="220.5"/><circle cx="728.7" cy="305.1"/><circle cx="728.2" cy="166.0"/><circle cx="728.1" cy="171.6"/><circle cx="728.2" cy="178.1"/><circle cx="728.0" cy="184.1"/><circle cx="727.5" cy="189.5"/><circle cx="727.1" cy="196.3"/><circle cx="727.6" cy="203.5"/><circle cx="726.8" cy="208.7"/><circle cx="727.6" cy="214.6"/><circle cx="726.5" cy="221.6"/><circle cx="727.5" cy="228.2"/><circle cx="727.4" cy="235.3"/><circle cx="726.4" cy="242.2"/><circle cx="726.4" cy="249.0"/><circle cx="727.5" cy="256.4"/><circle cx="728.1" cy="262.6"/><circle cx="727.2" cy="268.5"/><circle cx="726.4" cy="276.3"/><circle cx="728.0" cy="283.0"/><circle cx="727.7" cy="290.9"/><circle cx="727.1" cy="296.4"/><circle cx="726.1" cy="302.7"/><circle cx="726.0" cy="309.3"/><circle cx="727.0" cy="316.8"/><circle cx="726.3" cy="322.5"/><circle cx="727.0" cy="330.3"/><circle cx="727.5" cy="336.9"/><circle cx="728.3" cy="344.3"/><circle cx="727.3" cy="349.1"/><circle cx="727.5" cy="368.5"/><circle cx="727.0" cy="166.7"/><circle cx="732.6" cy="164.8"/><circle cx="738.9" cy="167.3"/><circle cx="752.8" cy="230.8"/><circle cx="746.5" cy="183.8"/><circle cx="731.5" cy="332.3"/><circle cx="754.0" cy="191.9"/><circle cx="759.1" cy="216.8"/><circle cx="733.3" cy="233.9"/><circle cx="738.9" cy="340.1"/><circle cx="749.4" cy="246.1"/><circle cx="740.0" cy="246.9"/><circle cx="740.9" cy="261.5"/><circle cx="735.5" cy="276.1"/><circle cx="749.7" cy="300.0"/><circle cx="743.8" cy="214.0"/><circle cx="734.3" cy="240.7"/><circle cx="730.4" cy="303.0"/><circle cx="732.0" cy="264.5"/><circle cx="756.6" cy="336.8"/><circle cx="739.9" cy="358.0"/><circle cx="758.0" cy="260.5"/><circle cx="753.1" cy="282.4"/><circle cx="738.0" cy="294.3"/><circle cx="759.1" cy="272.1"/><circle cx="729.7" cy="289.2"/><circle cx="743.9" cy="329.5"/><circle cx="730.1" cy="354.6"/><circle cx="727.2" cy="254.4"/><circle cx="747.9" cy="342.5"/><circle cx="748.9" cy="195.0"/><circle cx="750.5" cy="257.3"/><circle cx="754.9" cy="344.0"/><circle cx="740.2" cy="305.0"/><circle cx="753.2" cy="221.1"/><circle cx="730.6" cy="192.2"/><circle cx="727.6" cy="275.2"/><circle cx="730.6" cy="207.3"/><circle cx="746.7" cy="363.7"/><circle cx="751.8" cy="239.9"/><circle cx="740.5" cy="170.5"/><circle cx="738.3" cy="202.0"/><circle cx="733.4" cy="309.7"/><circle cx="726.6" cy="196.7"/><circle cx="754.6" cy="296.2"/><circle cx="728.4" cy="178.7"/><circle cx="758.2" cy="305.8"/><circle cx="730.1" cy="224.2"/><circle cx="738.8" cy="186.1"/><circle cx="743.6" cy="350.6"/><circle cx="734.1" cy="256.6"/><circle cx="726.8" cy="378.9"/><circle cx="748.6" cy="202.8"/><circle cx="746.1" cy="320.0"/><circle cx="737.1" cy="363.8"/><circle cx="756.8" cy="358.3"/><circle cx="726.6" cy="214.0"/><circle cx="761.2" cy="344.5"/><circle cx="757.3" cy="324.3"/><circle cx="739.3" cy="179.2"/><circle cx="758.6" cy="290.5"/><circle cx="757.8" cy="200.2"/><circle cx="729.1" cy="324.9"/><circle cx="736.4" cy="212.4"/><circle cx="749.5" cy="356.5"/><circle cx="752.1" cy="212.9"/><circle cx="732.0" cy="199.9"/><circle cx="747.4" cy="274.5"/><circle cx="743.5" cy="220.3"/><circle cx="746.8" cy="282.2"/><circle cx="741.5" cy="289.1"/><circle cx="743.3" cy="380.3"/><circle cx="747.3" cy="371.5"/><circle cx="752.2" cy="312.6"/><circle cx="732.3" cy="249.0"/><circle cx="727.0" cy="297.2"/><circle cx="747.3" cy="227.9"/><circle cx="750.4" cy="264.7"/><circle cx="734.0" cy="349.8"/><circle cx="741.5" cy="254.3"/><circle cx="727.1" cy="313.6"/><circle cx="754.1" cy="181.8"/><circle cx="737.6" cy="331.2"/><circle cx="729.2" cy="345.6"/><circle cx="740.7" cy="313.6"/><circle cx="742.4" cy="196.8"/><circle cx="748.1" cy="307.2"/><circle cx="756.3" cy="385.0"/><circle cx="734.7" cy="173.2"/><circle cx="728.3" cy="171.6"/><circle cx="730.3" cy="184.9"/><circle cx="758.8" cy="279.9"/><circle cx="740.1" cy="227.7"/><circle cx="743.4" cy="236.3"/><circle cx="736.7" cy="324.5"/><circle cx="745.2" cy="177.8"/><circle cx="743.5" cy="206.0"/><circle cx="744.4" cy="165.1"/><circle cx="737.5" cy="283.3"/><circle cx="749.5" cy="290.9"/><circle cx="758.6" cy="206.6"/><circle cx="761.1" cy="331.0"/><circle cx="727.8" cy="239.0"/><circle cx="735.7" cy="218.8"/><circle cx="747.5" cy="251.8"/><circle cx="749.9" cy="336.1"/><circle cx="733.6" cy="317.1"/><circle cx="731.5" cy="339.0"/><circle cx="735.0" cy="165.5"/><circle cx="739.4" cy="270.3"/><circle cx="748.7" cy="384.9"/><circle cx="749.8" cy="349.0"/><circle cx="755.8" cy="364.4"/><circle cx="727.1" cy="281.6"/><circle cx="745.1" cy="189.7"/><circle cx="746.6" cy="171.5"/><circle cx="755.3" cy="318.5"/><circle cx="758.5" cy="350.9"/><circle cx="750.5" cy="328.8"/><circle cx="745.2" cy="295.6"/><circle cx="741.6" cy="277.3"/><circle cx="728.1" cy="230.9"/><circle cx="732.3" cy="270.9"/><circle cx="726.7" cy="268.3"/><circle cx="744.6" cy="267.3"/><circle cx="737.1" cy="192.9"/><circle cx="744.2" cy="242.6"/><circle cx="753.4" cy="274.8"/><circle cx="726.6" cy="245.9"/><circle cx="726.6" cy="359.7"/><circle cx="736.6" cy="300.2"/><circle cx="368.9" cy="436.9"/><circle cx="379.3" cy="437.3"/><circle cx="389.5" cy="432.0"/><circle cx="377.1" cy="451.9"/><circle cx="386.5" cy="444.7"/><circle cx="390.4" cy="439.8"/><circle cx="396.3" cy="445.7"/><circle cx="399.2" cy="437.9"/><circle cx="399.2" cy="451.5"/><circle cx="597.6" cy="262.5"/><circle cx="692.3" cy="246.2"/><circle cx="698.8" cy="246.2"/><circle cx="702.8" cy="247.2"/><circle cx="711.5" cy="252.3"/><circle cx="694.5" cy="254.2"/><circle cx="702.1" cy="250.5"/><circle cx="701.5" cy="258.1"/><circle cx="689.7" cy="263.2"/><circle cx="697.1" cy="263.6"/><circle cx="702.1" cy="283.2"/><circle cx="687.9" cy="293.0"/><circle cx="693.4" cy="297.0"/><circle cx="712.4" cy="295.2"/><circle cx="416.8" cy="331.9"/><circle cx="414.6" cy="358.1"/><circle cx="428.6" cy="354.2"/><circle cx="478.3" cy="345.0"/><circle cx="492.1" cy="340.6"/><circle cx="548.6" cy="311.6"/><circle cx="546.2" cy="325.8"/><circle cx="710.0" cy="306.6"/><circle cx="709.1" cy="318.9"/><circle cx="710.0" cy="333.7"/><circle cx="710.0" cy="345.0"/><circle cx="710.9" cy="357.3"/><circle cx="712.6" cy="369.5"/><circle cx="722.2" cy="367.7"/><circle cx="733.8" cy="393.2"/><circle cx="742.0" cy="395.4"/><circle cx="719.6" cy="388.9"/><circle cx="725.5" cy="383.4"/><circle cx="712.0" cy="370.0"/><circle cx="722.4" cy="368.2"/><circle cx="727.2" cy="356.6"/></g>
<line x1="133.6" y1="506.8" x2="985" y2="259.2" stroke="#4B6F8D" stroke-width="2.8" stroke-linecap="round"/>
<g font-size="12.5" fill="#333" stroke="#333" stroke-width=".25">
<rect x="68.7" y="593.2" width="12" height="12" rx="1.6" fill="#24C27B" stroke="none"/><text x="91.2" y="603.3" textLength="58.3" lengthAdjust="spacingAndGlyphs">Compliant</text>
<rect x="185.3" y="593.2" width="12" height="12" rx="1.6" fill="#FF851F" stroke="none"/><text x="208" y="603.3" textLength="94" lengthAdjust="spacingAndGlyphs">Partly Compliant</text>
<rect x="338" y="593.2" width="12" height="12" rx="1.6" fill="#CE2532" stroke="none"/><text x="360.7" y="603.3" textLength="81.8" lengthAdjust="spacingAndGlyphs">Not Compliant</text>
</g>
<g>
<path d="M902.31 588.98 A9.95 9.95 0 0 0 891.89 605.78" fill="none" stroke="#5FE3A4" stroke-width="3.6"/>
<path d="M891.57 605.51 A9.95 9.95 0 0 0 907.83 595.93" fill="none" stroke="#22B573" stroke-width="3.6"/>
<line x1="904.4" y1="605.3" x2="910.8" y2="611.6" stroke="#22B573" stroke-width="3.6" stroke-linecap="butt"/>
<path d="M893.1 595.6 L898 600.5 L910.2 587.1" fill="none" stroke="#333" stroke-width="2.4" stroke-linejoin="miter"/>
<text x="919.1" y="597.3" font-size="10.5" font-weight="bold" fill="#333" textLength="75" lengthAdjust="spacingAndGlyphs">ACCESSIBILITY</text>
<text x="919.1" y="609.1" font-size="7.6" fill="#555" textLength="33.8" lengthAdjust="spacingAndGlyphs">CHECKER</text>
</g>
</svg>
</body></html>
